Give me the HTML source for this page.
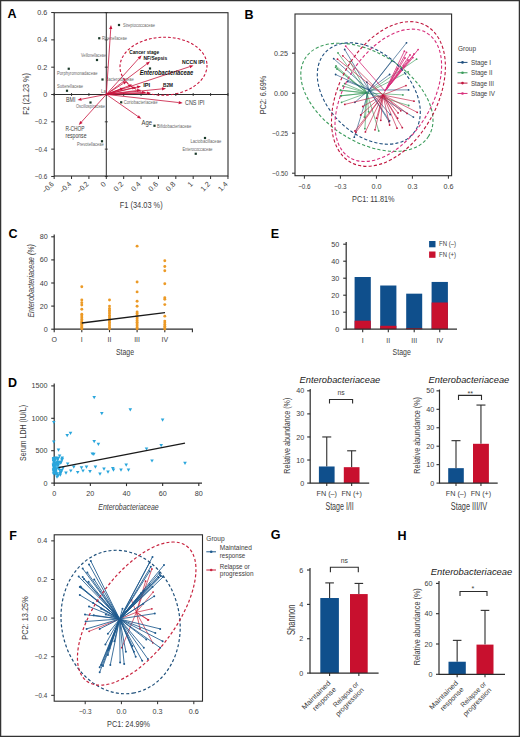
<!DOCTYPE html><html><head><meta charset="utf-8"><style>html,body{margin:0;padding:0;background:#fff;}svg{display:block;}</style></head><body>
<svg width="520" height="737" viewBox="0 0 520 737" font-family='"Liberation Sans", sans-serif'>
<rect x="0" y="0" width="520" height="737" fill="#fff"/>
<text x="7.60" y="18.21" font-size="12.5" font-weight="bold" fill="#000">A</text>
<rect x="54.2" y="12.7" width="173.8" height="163.3" fill="none" stroke="#2c2c2c" stroke-width="1.1"/>
<line x1="106.30" y1="12.70" x2="106.30" y2="176.00" stroke="#2c2c2c" stroke-width="1.0"/>
<line x1="54.20" y1="94.50" x2="228.00" y2="94.50" stroke="#2c2c2c" stroke-width="1.0"/>
<line x1="51.20" y1="176.46" x2="54.20" y2="176.46" stroke="#2c2c2c" stroke-width="1.0"/>
<line x1="104.80" y1="176.46" x2="107.80" y2="176.46" stroke="#2c2c2c" stroke-width="0.9"/>
<text x="47.30" y="179.05" font-size="7.2" text-anchor="end" fill="#3c3c3c" textLength="12.51" lengthAdjust="spacingAndGlyphs">−0.6</text>
<line x1="51.20" y1="149.14" x2="54.20" y2="149.14" stroke="#2c2c2c" stroke-width="1.0"/>
<line x1="104.80" y1="149.14" x2="107.80" y2="149.14" stroke="#2c2c2c" stroke-width="0.9"/>
<text x="47.30" y="151.73" font-size="7.2" text-anchor="end" fill="#3c3c3c" textLength="12.51" lengthAdjust="spacingAndGlyphs">−0.4</text>
<line x1="51.20" y1="121.82" x2="54.20" y2="121.82" stroke="#2c2c2c" stroke-width="1.0"/>
<line x1="104.80" y1="121.82" x2="107.80" y2="121.82" stroke="#2c2c2c" stroke-width="0.9"/>
<text x="47.30" y="124.41" font-size="7.2" text-anchor="end" fill="#3c3c3c" textLength="12.51" lengthAdjust="spacingAndGlyphs">−0.2</text>
<line x1="51.20" y1="94.50" x2="54.20" y2="94.50" stroke="#2c2c2c" stroke-width="1.0"/>
<line x1="104.80" y1="94.50" x2="107.80" y2="94.50" stroke="#2c2c2c" stroke-width="0.9"/>
<text x="47.30" y="97.09" font-size="7.2" text-anchor="end" fill="#3c3c3c">0</text>
<line x1="51.20" y1="67.18" x2="54.20" y2="67.18" stroke="#2c2c2c" stroke-width="1.0"/>
<line x1="104.80" y1="67.18" x2="107.80" y2="67.18" stroke="#2c2c2c" stroke-width="0.9"/>
<text x="47.30" y="69.77" font-size="7.2" text-anchor="end" fill="#3c3c3c">0.2</text>
<line x1="51.20" y1="39.86" x2="54.20" y2="39.86" stroke="#2c2c2c" stroke-width="1.0"/>
<line x1="104.80" y1="39.86" x2="107.80" y2="39.86" stroke="#2c2c2c" stroke-width="0.9"/>
<text x="47.30" y="42.45" font-size="7.2" text-anchor="end" fill="#3c3c3c">0.4</text>
<line x1="51.20" y1="12.54" x2="54.20" y2="12.54" stroke="#2c2c2c" stroke-width="1.0"/>
<line x1="104.80" y1="12.54" x2="107.80" y2="12.54" stroke="#2c2c2c" stroke-width="0.9"/>
<text x="47.30" y="15.13" font-size="7.2" text-anchor="end" fill="#3c3c3c">0.6</text>
<line x1="54.16" y1="176.00" x2="54.16" y2="179.00" stroke="#2c2c2c" stroke-width="1.0"/>
<line x1="54.16" y1="93.00" x2="54.16" y2="96.00" stroke="#2c2c2c" stroke-width="0.9"/>
<text x="54.36" y="184.70" font-size="7.4" text-anchor="end" fill="#3c3c3c" transform="rotate(-45 54.36 184.70)" textLength="12.86" lengthAdjust="spacingAndGlyphs">−0.6</text>
<line x1="71.54" y1="176.00" x2="71.54" y2="179.00" stroke="#2c2c2c" stroke-width="1.0"/>
<line x1="71.54" y1="93.00" x2="71.54" y2="96.00" stroke="#2c2c2c" stroke-width="0.9"/>
<text x="71.74" y="184.70" font-size="7.4" text-anchor="end" fill="#3c3c3c" transform="rotate(-45 71.74 184.70)" textLength="12.86" lengthAdjust="spacingAndGlyphs">−0.4</text>
<line x1="88.92" y1="176.00" x2="88.92" y2="179.00" stroke="#2c2c2c" stroke-width="1.0"/>
<line x1="88.92" y1="93.00" x2="88.92" y2="96.00" stroke="#2c2c2c" stroke-width="0.9"/>
<text x="89.12" y="184.70" font-size="7.4" text-anchor="end" fill="#3c3c3c" transform="rotate(-45 89.12 184.70)" textLength="12.86" lengthAdjust="spacingAndGlyphs">−0.2</text>
<line x1="106.30" y1="176.00" x2="106.30" y2="179.00" stroke="#2c2c2c" stroke-width="1.0"/>
<line x1="106.30" y1="93.00" x2="106.30" y2="96.00" stroke="#2c2c2c" stroke-width="0.9"/>
<text x="106.50" y="184.70" font-size="7.4" text-anchor="end" fill="#3c3c3c" transform="rotate(-45 106.50 184.70)">0</text>
<line x1="123.68" y1="176.00" x2="123.68" y2="179.00" stroke="#2c2c2c" stroke-width="1.0"/>
<line x1="123.68" y1="93.00" x2="123.68" y2="96.00" stroke="#2c2c2c" stroke-width="0.9"/>
<text x="123.88" y="184.70" font-size="7.4" text-anchor="end" fill="#3c3c3c" transform="rotate(-45 123.88 184.70)">0.2</text>
<line x1="141.06" y1="176.00" x2="141.06" y2="179.00" stroke="#2c2c2c" stroke-width="1.0"/>
<line x1="141.06" y1="93.00" x2="141.06" y2="96.00" stroke="#2c2c2c" stroke-width="0.9"/>
<text x="141.26" y="184.70" font-size="7.4" text-anchor="end" fill="#3c3c3c" transform="rotate(-45 141.26 184.70)">0.4</text>
<line x1="158.44" y1="176.00" x2="158.44" y2="179.00" stroke="#2c2c2c" stroke-width="1.0"/>
<line x1="158.44" y1="93.00" x2="158.44" y2="96.00" stroke="#2c2c2c" stroke-width="0.9"/>
<text x="158.64" y="184.70" font-size="7.4" text-anchor="end" fill="#3c3c3c" transform="rotate(-45 158.64 184.70)">0.6</text>
<line x1="175.82" y1="176.00" x2="175.82" y2="179.00" stroke="#2c2c2c" stroke-width="1.0"/>
<line x1="175.82" y1="93.00" x2="175.82" y2="96.00" stroke="#2c2c2c" stroke-width="0.9"/>
<text x="176.02" y="184.70" font-size="7.4" text-anchor="end" fill="#3c3c3c" transform="rotate(-45 176.02 184.70)">0.8</text>
<line x1="193.20" y1="176.00" x2="193.20" y2="179.00" stroke="#2c2c2c" stroke-width="1.0"/>
<line x1="193.20" y1="93.00" x2="193.20" y2="96.00" stroke="#2c2c2c" stroke-width="0.9"/>
<text x="193.40" y="184.70" font-size="7.4" text-anchor="end" fill="#3c3c3c" transform="rotate(-45 193.40 184.70)">1</text>
<line x1="210.58" y1="176.00" x2="210.58" y2="179.00" stroke="#2c2c2c" stroke-width="1.0"/>
<line x1="210.58" y1="93.00" x2="210.58" y2="96.00" stroke="#2c2c2c" stroke-width="0.9"/>
<text x="210.78" y="184.70" font-size="7.4" text-anchor="end" fill="#3c3c3c" transform="rotate(-45 210.78 184.70)">1.2</text>
<line x1="227.96" y1="176.00" x2="227.96" y2="179.00" stroke="#2c2c2c" stroke-width="1.0"/>
<line x1="227.96" y1="93.00" x2="227.96" y2="96.00" stroke="#2c2c2c" stroke-width="0.9"/>
<text x="228.16" y="184.70" font-size="7.4" text-anchor="end" fill="#3c3c3c" transform="rotate(-45 228.16 184.70)">1.4</text>
<text x="141.20" y="208.06" font-size="9.6" text-anchor="middle" fill="#3c3c3c" textLength="42.9" lengthAdjust="spacingAndGlyphs">F1 (34.03 %)</text>
<text transform="translate(25.70 94.00) rotate(-90)" x="0" y="3.46" font-size="9.6" text-anchor="middle" fill="#3c3c3c" textLength="41.6" lengthAdjust="spacingAndGlyphs">F2 (21.23 %)</text>
<rect x="117.90" y="23.90" width="2.2" height="2.2" fill="#1a3a2a"/>
<text x="123.00" y="26.96" font-size="4.6" text-anchor="start" fill="#6a6a6a" textLength="32" lengthAdjust="spacingAndGlyphs">Streptococcaceae</text>
<rect x="98.15" y="37.15" width="2.2" height="2.2" fill="#1a3a2a"/>
<text x="102.00" y="40.16" font-size="4.6" text-anchor="start" fill="#6a6a6a" textLength="25" lengthAdjust="spacingAndGlyphs">Rikenellaceae</text>
<rect x="95.90" y="58.90" width="2.2" height="2.2" fill="#1a3a2a"/>
<text x="106.00" y="57.16" font-size="4.6" text-anchor="end" fill="#6a6a6a" textLength="25" lengthAdjust="spacingAndGlyphs">Veillonellaceae</text>
<rect x="67.65" y="67.65" width="2.2" height="2.2" fill="#1a3a2a"/>
<text x="57.00" y="74.66" font-size="4.6" text-anchor="start" fill="#6a6a6a" textLength="40.5" lengthAdjust="spacingAndGlyphs">Porphyromonadaceae</text>
<rect x="65.90" y="89.65" width="2.2" height="2.2" fill="#1a3a2a"/>
<text x="57.00" y="88.41" font-size="4.6" text-anchor="start" fill="#6a6a6a" textLength="26" lengthAdjust="spacingAndGlyphs">Sutterellaceae</text>
<rect x="101.40" y="78.40" width="2.2" height="2.2" fill="#1a3a2a"/>
<text x="105.75" y="81.16" font-size="4.6" text-anchor="start" fill="#6a6a6a" textLength="28" lengthAdjust="spacingAndGlyphs">Bacteroidaceae</text>
<rect x="89.40" y="101.40" width="2.2" height="2.2" fill="#1a3a2a"/>
<text x="76.00" y="107.66" font-size="4.6" text-anchor="start" fill="#6a6a6a" textLength="29" lengthAdjust="spacingAndGlyphs">Oscillospiraceae</text>
<rect x="120.10" y="101.20" width="2.2" height="2.2" fill="#1a3a2a"/>
<text x="123.75" y="104.16" font-size="4.6" text-anchor="start" fill="#6a6a6a" textLength="33.75" lengthAdjust="spacingAndGlyphs">Coriobacteriaceae</text>
<rect x="100.90" y="140.15" width="2.2" height="2.2" fill="#1a3a2a"/>
<text x="77.00" y="146.16" font-size="4.6" text-anchor="start" fill="#6a6a6a" textLength="26.75" lengthAdjust="spacingAndGlyphs">Prevotellaceae</text>
<rect x="153.40" y="124.65" width="2.2" height="2.2" fill="#1a3a2a"/>
<text x="157.00" y="127.91" font-size="4.6" text-anchor="start" fill="#6a6a6a" textLength="34.25" lengthAdjust="spacingAndGlyphs">Bifidobacteriaceae</text>
<rect x="203.90" y="136.90" width="2.2" height="2.2" fill="#1a3a2a"/>
<text x="190.50" y="142.91" font-size="4.6" text-anchor="start" fill="#6a6a6a" textLength="30.75" lengthAdjust="spacingAndGlyphs">Lactobacillaceae</text>
<rect x="194.65" y="152.65" width="2.2" height="2.2" fill="#1a3a2a"/>
<text x="182.50" y="151.16" font-size="4.6" text-anchor="start" fill="#6a6a6a" textLength="30" lengthAdjust="spacingAndGlyphs">Enterococcaceae</text>
<text x="101.00" y="92.66" font-size="4.6" text-anchor="start" fill="#6a6a6a">La</text>
<ellipse cx="163.50" cy="66.20" rx="43.51" ry="28.98" transform="rotate(-1.69 163.50 66.20)" fill="none" stroke="#c8143c" stroke-width="1.1" stroke-dasharray="2.8 2"/>
<line x1="106.30" y1="94.40" x2="110.73" y2="28.99" stroke="#c8143c" stroke-width="0.8"/>
<polygon points="111.00,25.00 112.33,29.10 109.13,28.88" fill="#c8143c"/>
<line x1="106.30" y1="94.40" x2="138.82" y2="58.37" stroke="#c8143c" stroke-width="0.8"/>
<polygon points="141.50,55.40 140.01,59.44 137.63,57.30" fill="#c8143c"/>
<line x1="106.30" y1="94.40" x2="146.80" y2="63.91" stroke="#c8143c" stroke-width="0.8"/>
<polygon points="150.00,61.50 147.77,65.18 145.84,62.63" fill="#c8143c"/>
<line x1="106.30" y1="94.40" x2="189.70" y2="66.66" stroke="#c8143c" stroke-width="0.8"/>
<polygon points="193.50,65.40 190.21,68.18 189.20,65.14" fill="#c8143c"/>
<line x1="106.30" y1="94.40" x2="137.11" y2="87.12" stroke="#c8143c" stroke-width="0.8"/>
<polygon points="141.00,86.20 137.48,88.68 136.74,85.56" fill="#c8143c"/>
<line x1="106.30" y1="94.40" x2="162.02" y2="88.89" stroke="#c8143c" stroke-width="0.8"/>
<polygon points="166.00,88.50 162.18,90.49 161.86,87.30" fill="#c8143c"/>
<line x1="106.30" y1="94.40" x2="178.73" y2="102.55" stroke="#c8143c" stroke-width="0.8"/>
<polygon points="182.70,103.00 178.55,104.14 178.90,100.96" fill="#c8143c"/>
<line x1="106.30" y1="94.40" x2="137.97" y2="116.46" stroke="#c8143c" stroke-width="0.8"/>
<polygon points="141.25,118.75 137.05,117.78 138.88,115.15" fill="#c8143c"/>
<line x1="106.30" y1="94.40" x2="81.43" y2="99.24" stroke="#c8143c" stroke-width="0.8"/>
<polygon points="77.50,100.00 81.12,97.67 81.73,100.81" fill="#c8143c"/>
<line x1="106.30" y1="94.40" x2="81.43" y2="122.03" stroke="#c8143c" stroke-width="0.8"/>
<polygon points="78.75,125.00 80.24,120.96 82.62,123.10" fill="#c8143c"/>
<line x1="106.30" y1="94.40" x2="123.64" y2="83.17" stroke="#c8143c" stroke-width="0.8"/>
<polygon points="127.00,81.00 124.51,84.52 122.77,81.83" fill="#c8143c"/>
<line x1="106.30" y1="94.40" x2="128.26" y2="86.03" stroke="#c8143c" stroke-width="0.8"/>
<polygon points="132.00,84.60 128.83,87.52 127.69,84.53" fill="#c8143c"/>
<line x1="106.30" y1="94.40" x2="132.12" y2="87.97" stroke="#c8143c" stroke-width="0.8"/>
<polygon points="136.00,87.00 132.51,89.52 131.73,86.41" fill="#c8143c"/>
<line x1="106.30" y1="94.40" x2="137.03" y2="90.50" stroke="#c8143c" stroke-width="0.8"/>
<polygon points="141.00,90.00 137.23,92.09 136.83,88.92" fill="#c8143c"/>
<line x1="106.30" y1="94.40" x2="142.01" y2="92.51" stroke="#c8143c" stroke-width="0.8"/>
<polygon points="146.00,92.30 142.09,94.11 141.92,90.91" fill="#c8143c"/>
<line x1="106.30" y1="94.40" x2="147.00" y2="93.13" stroke="#c8143c" stroke-width="0.8"/>
<polygon points="151.00,93.00 147.05,94.72 146.95,91.53" fill="#c8143c"/>
<line x1="106.30" y1="94.40" x2="120.24" y2="89.36" stroke="#c8143c" stroke-width="0.8"/>
<polygon points="124.00,88.00 120.78,90.86 119.69,87.86" fill="#c8143c"/>
<text x="129.20" y="53.73" font-size="6.2" text-anchor="start" fill="#111" font-weight="bold" textLength="30" lengthAdjust="spacingAndGlyphs">Cancer stage</text>
<text x="143.50" y="60.43" font-size="6.2" text-anchor="start" fill="#111" font-weight="bold" textLength="23.7" lengthAdjust="spacingAndGlyphs">NF/Sepsis</text>
<text x="182.00" y="63.73" font-size="6.2" text-anchor="start" fill="#111" font-weight="bold" textLength="22.6" lengthAdjust="spacingAndGlyphs">NCCN IPI</text>
<text x="143.20" y="87.23" font-size="6.2" text-anchor="start" fill="#111" font-weight="bold" textLength="7" lengthAdjust="spacingAndGlyphs">IPI</text>
<text x="163.00" y="87.23" font-size="6.2" text-anchor="start" fill="#111" font-weight="bold" textLength="10" lengthAdjust="spacingAndGlyphs">B2M</text>
<rect x="148.9" y="67.4" width="2.2" height="2.2" fill="#1a3a2a"/>
<text x="139.70" y="75.04" font-size="7.6" text-anchor="start" fill="#111" font-weight="bold" font-style="italic" textLength="53.5" lengthAdjust="spacingAndGlyphs">Enterobacteriaceae</text>
<text x="185.00" y="105.30" font-size="6.4" text-anchor="start" fill="#3c3c3c" textLength="19.6" lengthAdjust="spacingAndGlyphs">CNS IPI</text>
<text x="141.50" y="124.95" font-size="6.8" text-anchor="start" fill="#3c3c3c" textLength="10.5" lengthAdjust="spacingAndGlyphs">Age</text>
<text x="66.00" y="102.45" font-size="6.8" text-anchor="start" fill="#3c3c3c" textLength="9.5" lengthAdjust="spacingAndGlyphs">BMI</text>
<text x="65.50" y="131.20" font-size="6.8" text-anchor="start" fill="#3c3c3c" textLength="19" lengthAdjust="spacingAndGlyphs">R-CHOP</text>
<text x="65.50" y="137.95" font-size="6.8" text-anchor="start" fill="#3c3c3c" textLength="21" lengthAdjust="spacingAndGlyphs">response</text>
<text x="244.50" y="18.51" font-size="12.5" font-weight="bold" fill="#000">B</text>
<line x1="367.00" y1="93.00" x2="338.00" y2="52.90" stroke="#3c9c5c" stroke-width="0.7" stroke-opacity="0.9"/>
<line x1="367.00" y1="93.00" x2="335.60" y2="67.30" stroke="#3c9c5c" stroke-width="0.7" stroke-opacity="0.9"/>
<line x1="367.00" y1="93.00" x2="344.70" y2="83.70" stroke="#3c9c5c" stroke-width="0.7" stroke-opacity="0.9"/>
<line x1="367.00" y1="93.00" x2="340.40" y2="90.40" stroke="#3c9c5c" stroke-width="0.7" stroke-opacity="0.9"/>
<line x1="367.00" y1="93.00" x2="341.30" y2="95.70" stroke="#3c9c5c" stroke-width="0.7" stroke-opacity="0.9"/>
<line x1="367.00" y1="93.00" x2="340.60" y2="90.10" stroke="#3c9c5c" stroke-width="0.7" stroke-opacity="0.9"/>
<line x1="367.00" y1="93.00" x2="340.60" y2="95.90" stroke="#3c9c5c" stroke-width="0.7" stroke-opacity="0.9"/>
<line x1="367.00" y1="93.00" x2="341.60" y2="102.30" stroke="#3c9c5c" stroke-width="0.7" stroke-opacity="0.9"/>
<line x1="367.00" y1="93.00" x2="364.40" y2="117.10" stroke="#3c9c5c" stroke-width="0.7" stroke-opacity="0.9"/>
<line x1="367.00" y1="93.00" x2="364.90" y2="128.70" stroke="#3c9c5c" stroke-width="0.7" stroke-opacity="0.9"/>
<line x1="367.00" y1="93.00" x2="378.70" y2="130.90" stroke="#3c9c5c" stroke-width="0.7" stroke-opacity="0.9"/>
<line x1="367.00" y1="93.00" x2="402.90" y2="94.90" stroke="#3c9c5c" stroke-width="0.7" stroke-opacity="0.9"/>
<line x1="367.00" y1="93.00" x2="408.70" y2="105.50" stroke="#3c9c5c" stroke-width="0.7" stroke-opacity="0.9"/>
<line x1="367.00" y1="93.00" x2="416.60" y2="59.20" stroke="#3c9c5c" stroke-width="0.7" stroke-opacity="0.9"/>
<line x1="367.00" y1="93.00" x2="408.10" y2="71.90" stroke="#3c9c5c" stroke-width="0.7" stroke-opacity="0.9"/>
<line x1="367.00" y1="93.00" x2="368.60" y2="111.80" stroke="#3c9c5c" stroke-width="0.7" stroke-opacity="0.9"/>
<line x1="367.00" y1="93.00" x2="350.00" y2="61.60" stroke="#3c9c5c" stroke-width="0.7" stroke-opacity="0.9"/>
<line x1="367.00" y1="93.00" x2="336.00" y2="66.00" stroke="#3c9c5c" stroke-width="0.7" stroke-opacity="0.9"/>
<line x1="367.00" y1="93.00" x2="337.00" y2="69.00" stroke="#3c9c5c" stroke-width="0.7" stroke-opacity="0.9"/>
<line x1="367.00" y1="93.00" x2="343.00" y2="86.00" stroke="#3c9c5c" stroke-width="0.7" stroke-opacity="0.9"/>
<circle cx="338.00" cy="52.90" r="0.9" fill="#3c9c5c"/>
<circle cx="335.60" cy="67.30" r="0.9" fill="#3c9c5c"/>
<circle cx="344.70" cy="83.70" r="0.9" fill="#3c9c5c"/>
<circle cx="340.40" cy="90.40" r="0.9" fill="#3c9c5c"/>
<circle cx="341.30" cy="95.70" r="0.9" fill="#3c9c5c"/>
<circle cx="340.60" cy="90.10" r="0.9" fill="#3c9c5c"/>
<circle cx="340.60" cy="95.90" r="0.9" fill="#3c9c5c"/>
<circle cx="341.60" cy="102.30" r="0.9" fill="#3c9c5c"/>
<circle cx="364.40" cy="117.10" r="0.9" fill="#3c9c5c"/>
<circle cx="364.90" cy="128.70" r="0.9" fill="#3c9c5c"/>
<circle cx="378.70" cy="130.90" r="0.9" fill="#3c9c5c"/>
<circle cx="402.90" cy="94.90" r="0.9" fill="#3c9c5c"/>
<circle cx="408.70" cy="105.50" r="0.9" fill="#3c9c5c"/>
<circle cx="416.60" cy="59.20" r="0.9" fill="#3c9c5c"/>
<circle cx="408.10" cy="71.90" r="0.9" fill="#3c9c5c"/>
<circle cx="368.60" cy="111.80" r="0.9" fill="#3c9c5c"/>
<circle cx="350.00" cy="61.60" r="0.9" fill="#3c9c5c"/>
<circle cx="336.00" cy="66.00" r="0.9" fill="#3c9c5c"/>
<circle cx="337.00" cy="69.00" r="0.9" fill="#3c9c5c"/>
<circle cx="343.00" cy="86.00" r="0.9" fill="#3c9c5c"/>
<line x1="369.00" y1="90.00" x2="344.70" y2="49.50" stroke="#1f4f7e" stroke-width="0.7" stroke-opacity="0.9"/>
<line x1="369.00" y1="90.00" x2="333.70" y2="58.70" stroke="#1f4f7e" stroke-width="0.7" stroke-opacity="0.9"/>
<line x1="369.00" y1="90.00" x2="335.60" y2="74.50" stroke="#1f4f7e" stroke-width="0.7" stroke-opacity="0.9"/>
<line x1="369.00" y1="90.00" x2="347.70" y2="81.50" stroke="#1f4f7e" stroke-width="0.7" stroke-opacity="0.9"/>
<line x1="369.00" y1="90.00" x2="366.80" y2="82.20" stroke="#1f4f7e" stroke-width="0.7" stroke-opacity="0.9"/>
<line x1="369.00" y1="90.00" x2="406.50" y2="42.80" stroke="#1f4f7e" stroke-width="0.7" stroke-opacity="0.9"/>
<line x1="369.00" y1="90.00" x2="389.60" y2="74.50" stroke="#1f4f7e" stroke-width="0.7" stroke-opacity="0.9"/>
<line x1="369.00" y1="90.00" x2="408.60" y2="89.90" stroke="#1f4f7e" stroke-width="0.7" stroke-opacity="0.9"/>
<line x1="369.00" y1="90.00" x2="354.30" y2="137.20" stroke="#1f4f7e" stroke-width="0.7" stroke-opacity="0.9"/>
<line x1="369.00" y1="90.00" x2="354.90" y2="102.30" stroke="#1f4f7e" stroke-width="0.7" stroke-opacity="0.9"/>
<line x1="369.00" y1="90.00" x2="389.00" y2="121.50" stroke="#1f4f7e" stroke-width="0.7" stroke-opacity="0.9"/>
<line x1="369.00" y1="90.00" x2="413.40" y2="117.10" stroke="#1f4f7e" stroke-width="0.7" stroke-opacity="0.9"/>
<line x1="369.00" y1="90.00" x2="390.20" y2="114.50" stroke="#1f4f7e" stroke-width="0.7" stroke-opacity="0.9"/>
<line x1="369.00" y1="90.00" x2="389.60" y2="120.80" stroke="#1f4f7e" stroke-width="0.7" stroke-opacity="0.9"/>
<line x1="369.00" y1="90.00" x2="391.70" y2="60.80" stroke="#1f4f7e" stroke-width="0.7" stroke-opacity="0.9"/>
<circle cx="344.70" cy="49.50" r="0.9" fill="#1f4f7e"/>
<circle cx="333.70" cy="58.70" r="0.9" fill="#1f4f7e"/>
<circle cx="335.60" cy="74.50" r="0.9" fill="#1f4f7e"/>
<circle cx="347.70" cy="81.50" r="0.9" fill="#1f4f7e"/>
<circle cx="366.80" cy="82.20" r="0.9" fill="#1f4f7e"/>
<circle cx="406.50" cy="42.80" r="0.9" fill="#1f4f7e"/>
<circle cx="389.60" cy="74.50" r="0.9" fill="#1f4f7e"/>
<circle cx="408.60" cy="89.90" r="0.9" fill="#1f4f7e"/>
<circle cx="354.30" cy="137.20" r="0.9" fill="#1f4f7e"/>
<circle cx="354.90" cy="102.30" r="0.9" fill="#1f4f7e"/>
<circle cx="389.00" cy="121.50" r="0.9" fill="#1f4f7e"/>
<circle cx="413.40" cy="117.10" r="0.9" fill="#1f4f7e"/>
<circle cx="390.20" cy="114.50" r="0.9" fill="#1f4f7e"/>
<circle cx="389.60" cy="120.80" r="0.9" fill="#1f4f7e"/>
<circle cx="391.70" cy="60.80" r="0.9" fill="#1f4f7e"/>
<line x1="383.00" y1="95.00" x2="342.80" y2="55.80" stroke="#c0173f" stroke-width="0.7" stroke-opacity="0.9"/>
<line x1="383.00" y1="95.00" x2="337.50" y2="59.20" stroke="#c0173f" stroke-width="0.7" stroke-opacity="0.9"/>
<line x1="383.00" y1="95.00" x2="397.50" y2="68.70" stroke="#c0173f" stroke-width="0.7" stroke-opacity="0.9"/>
<line x1="383.00" y1="95.00" x2="406.00" y2="85.60" stroke="#c0173f" stroke-width="0.7" stroke-opacity="0.9"/>
<line x1="383.00" y1="95.00" x2="344.80" y2="104.40" stroke="#c0173f" stroke-width="0.7" stroke-opacity="0.9"/>
<line x1="383.00" y1="95.00" x2="362.80" y2="106.50" stroke="#c0173f" stroke-width="0.7" stroke-opacity="0.9"/>
<line x1="383.00" y1="95.00" x2="360.70" y2="115.00" stroke="#c0173f" stroke-width="0.7" stroke-opacity="0.9"/>
<line x1="383.00" y1="95.00" x2="355.90" y2="132.40" stroke="#c0173f" stroke-width="0.7" stroke-opacity="0.9"/>
<line x1="383.00" y1="95.00" x2="365.40" y2="131.90" stroke="#c0173f" stroke-width="0.7" stroke-opacity="0.9"/>
<line x1="383.00" y1="95.00" x2="375.00" y2="129.80" stroke="#c0173f" stroke-width="0.7" stroke-opacity="0.9"/>
<line x1="383.00" y1="95.00" x2="376.60" y2="118.20" stroke="#c0173f" stroke-width="0.7" stroke-opacity="0.9"/>
<line x1="383.00" y1="95.00" x2="380.80" y2="120.30" stroke="#c0173f" stroke-width="0.7" stroke-opacity="0.9"/>
<line x1="383.00" y1="95.00" x2="414.00" y2="101.20" stroke="#c0173f" stroke-width="0.7" stroke-opacity="0.9"/>
<line x1="383.00" y1="95.00" x2="417.20" y2="112.30" stroke="#c0173f" stroke-width="0.7" stroke-opacity="0.9"/>
<line x1="383.00" y1="95.00" x2="407.10" y2="113.40" stroke="#c0173f" stroke-width="0.7" stroke-opacity="0.9"/>
<line x1="383.00" y1="95.00" x2="400.80" y2="110.80" stroke="#c0173f" stroke-width="0.7" stroke-opacity="0.9"/>
<line x1="383.00" y1="95.00" x2="398.10" y2="112.90" stroke="#c0173f" stroke-width="0.7" stroke-opacity="0.9"/>
<line x1="383.00" y1="95.00" x2="397.60" y2="118.20" stroke="#c0173f" stroke-width="0.7" stroke-opacity="0.9"/>
<line x1="383.00" y1="95.00" x2="389.60" y2="125.00" stroke="#c0173f" stroke-width="0.7" stroke-opacity="0.9"/>
<line x1="383.00" y1="95.00" x2="397.00" y2="128.20" stroke="#c0173f" stroke-width="0.7" stroke-opacity="0.9"/>
<line x1="383.00" y1="95.00" x2="402.30" y2="127.70" stroke="#c0173f" stroke-width="0.7" stroke-opacity="0.9"/>
<line x1="383.00" y1="95.00" x2="355.00" y2="131.00" stroke="#c0173f" stroke-width="0.7" stroke-opacity="0.9"/>
<circle cx="342.80" cy="55.80" r="0.9" fill="#c0173f"/>
<circle cx="337.50" cy="59.20" r="0.9" fill="#c0173f"/>
<circle cx="397.50" cy="68.70" r="0.9" fill="#c0173f"/>
<circle cx="406.00" cy="85.60" r="0.9" fill="#c0173f"/>
<circle cx="344.80" cy="104.40" r="0.9" fill="#c0173f"/>
<circle cx="362.80" cy="106.50" r="0.9" fill="#c0173f"/>
<circle cx="360.70" cy="115.00" r="0.9" fill="#c0173f"/>
<circle cx="355.90" cy="132.40" r="0.9" fill="#c0173f"/>
<circle cx="365.40" cy="131.90" r="0.9" fill="#c0173f"/>
<circle cx="375.00" cy="129.80" r="0.9" fill="#c0173f"/>
<circle cx="376.60" cy="118.20" r="0.9" fill="#c0173f"/>
<circle cx="380.80" cy="120.30" r="0.9" fill="#c0173f"/>
<circle cx="414.00" cy="101.20" r="0.9" fill="#c0173f"/>
<circle cx="417.20" cy="112.30" r="0.9" fill="#c0173f"/>
<circle cx="407.10" cy="113.40" r="0.9" fill="#c0173f"/>
<circle cx="400.80" cy="110.80" r="0.9" fill="#c0173f"/>
<circle cx="398.10" cy="112.90" r="0.9" fill="#c0173f"/>
<circle cx="397.60" cy="118.20" r="0.9" fill="#c0173f"/>
<circle cx="389.60" cy="125.00" r="0.9" fill="#c0173f"/>
<circle cx="397.00" cy="128.20" r="0.9" fill="#c0173f"/>
<circle cx="402.30" cy="127.70" r="0.9" fill="#c0173f"/>
<circle cx="355.00" cy="131.00" r="0.9" fill="#c0173f"/>
<line x1="385.00" y1="91.00" x2="345.70" y2="46.20" stroke="#d8307c" stroke-width="0.9" stroke-opacity="0.9"/>
<line x1="385.00" y1="91.00" x2="404.40" y2="51.20" stroke="#d8307c" stroke-width="0.9" stroke-opacity="0.9"/>
<line x1="385.00" y1="91.00" x2="406.50" y2="52.30" stroke="#d8307c" stroke-width="0.9" stroke-opacity="0.9"/>
<line x1="385.00" y1="91.00" x2="418.10" y2="49.60" stroke="#d8307c" stroke-width="0.9" stroke-opacity="0.9"/>
<line x1="385.00" y1="91.00" x2="412.90" y2="57.60" stroke="#d8307c" stroke-width="0.9" stroke-opacity="0.9"/>
<line x1="385.00" y1="91.00" x2="403.90" y2="66.00" stroke="#d8307c" stroke-width="0.9" stroke-opacity="0.9"/>
<line x1="385.00" y1="91.00" x2="410.00" y2="55.00" stroke="#d8307c" stroke-width="0.9" stroke-opacity="0.9"/>
<line x1="385.00" y1="91.00" x2="408.00" y2="60.00" stroke="#d8307c" stroke-width="0.9" stroke-opacity="0.9"/>
<line x1="385.00" y1="91.00" x2="414.00" y2="54.00" stroke="#d8307c" stroke-width="0.9" stroke-opacity="0.9"/>
<line x1="385.00" y1="91.00" x2="405.00" y2="58.00" stroke="#d8307c" stroke-width="0.9" stroke-opacity="0.9"/>
<circle cx="345.70" cy="46.20" r="0.9" fill="#d8307c"/>
<circle cx="404.40" cy="51.20" r="0.9" fill="#d8307c"/>
<circle cx="406.50" cy="52.30" r="0.9" fill="#d8307c"/>
<circle cx="418.10" cy="49.60" r="0.9" fill="#d8307c"/>
<circle cx="412.90" cy="57.60" r="0.9" fill="#d8307c"/>
<circle cx="403.90" cy="66.00" r="0.9" fill="#d8307c"/>
<circle cx="410.00" cy="55.00" r="0.9" fill="#d8307c"/>
<circle cx="408.00" cy="60.00" r="0.9" fill="#d8307c"/>
<circle cx="414.00" cy="54.00" r="0.9" fill="#d8307c"/>
<circle cx="405.00" cy="58.00" r="0.9" fill="#d8307c"/>
<ellipse cx="366.90" cy="97.30" rx="73.00" ry="44.35" transform="rotate(32.30 366.90 97.30)" fill="none" stroke="#3c9c5c" stroke-width="1.1" stroke-dasharray="3.2 2.1"/>
<ellipse cx="368.80" cy="93.50" rx="59.83" ry="40.54" transform="rotate(43.79 368.80 93.50)" fill="none" stroke="#1f4f7e" stroke-width="1.1" stroke-dasharray="3.2 2.1"/>
<ellipse cx="388.45" cy="94.00" rx="78.02" ry="48.89" transform="rotate(-61.29 388.45 94.00)" fill="none" stroke="#c0173f" stroke-width="1.1" stroke-dasharray="3.2 2.1"/>
<ellipse cx="388.30" cy="95.30" rx="73.26" ry="43.09" transform="rotate(-58.02 388.30 95.30)" fill="none" stroke="#d8307c" stroke-width="1.1" stroke-dasharray="3.2 2.1"/>
<rect x="295.0" y="14.0" width="156.60000000000002" height="161.7" fill="none" stroke="#2c2c2c" stroke-width="1.1"/>
<line x1="292.00" y1="53.20" x2="295.00" y2="53.20" stroke="#2c2c2c" stroke-width="1.0"/>
<text x="288.00" y="55.79" font-size="7.2" text-anchor="end" fill="#3c3c3c">0.25</text>
<line x1="292.00" y1="93.20" x2="295.00" y2="93.20" stroke="#2c2c2c" stroke-width="1.0"/>
<text x="288.00" y="95.79" font-size="7.2" text-anchor="end" fill="#3c3c3c">0.00</text>
<line x1="292.00" y1="133.20" x2="295.00" y2="133.20" stroke="#2c2c2c" stroke-width="1.0"/>
<text x="288.00" y="135.79" font-size="7.2" text-anchor="end" fill="#3c3c3c" textLength="16.03" lengthAdjust="spacingAndGlyphs">−0.25</text>
<line x1="292.00" y1="173.20" x2="295.00" y2="173.20" stroke="#2c2c2c" stroke-width="1.0"/>
<text x="288.00" y="175.79" font-size="7.2" text-anchor="end" fill="#3c3c3c" textLength="16.03" lengthAdjust="spacingAndGlyphs">−0.50</text>
<line x1="304.40" y1="175.70" x2="304.40" y2="178.70" stroke="#2c2c2c" stroke-width="1.0"/>
<text x="304.40" y="188.99" font-size="7.2" text-anchor="middle" fill="#3c3c3c" textLength="12.51" lengthAdjust="spacingAndGlyphs">−0.6</text>
<line x1="340.40" y1="175.70" x2="340.40" y2="178.70" stroke="#2c2c2c" stroke-width="1.0"/>
<text x="340.40" y="188.99" font-size="7.2" text-anchor="middle" fill="#3c3c3c" textLength="12.51" lengthAdjust="spacingAndGlyphs">−0.3</text>
<line x1="376.40" y1="175.70" x2="376.40" y2="178.70" stroke="#2c2c2c" stroke-width="1.0"/>
<text x="376.40" y="188.99" font-size="7.2" text-anchor="middle" fill="#3c3c3c">0.0</text>
<line x1="412.40" y1="175.70" x2="412.40" y2="178.70" stroke="#2c2c2c" stroke-width="1.0"/>
<text x="412.40" y="188.99" font-size="7.2" text-anchor="middle" fill="#3c3c3c">0.3</text>
<line x1="448.40" y1="175.70" x2="448.40" y2="178.70" stroke="#2c2c2c" stroke-width="1.0"/>
<text x="448.40" y="188.99" font-size="7.2" text-anchor="middle" fill="#3c3c3c">0.6</text>
<text x="373.30" y="201.86" font-size="9.6" text-anchor="middle" fill="#3c3c3c" textLength="42.6" lengthAdjust="spacingAndGlyphs">PC1: 11.81%</text>
<text transform="translate(262.30 95.00) rotate(-90)" x="0" y="3.42" font-size="9.5" text-anchor="middle" fill="#3c3c3c" textLength="38.5" lengthAdjust="spacingAndGlyphs">PC2: 6.69%</text>
<text x="458.00" y="51.32" font-size="7" text-anchor="start" fill="#3c3c3c" textLength="18" lengthAdjust="spacingAndGlyphs">Group</text>
<line x1="457.50" y1="62.40" x2="467.50" y2="62.40" stroke="#1f4f7e" stroke-width="1.0"/>
<circle cx="462.5" cy="62.40" r="1.3" fill="#1f4f7e"/>
<text x="471.00" y="64.92" font-size="7" text-anchor="start" fill="#3c3c3c" textLength="20" lengthAdjust="spacingAndGlyphs">Stage I</text>
<line x1="457.50" y1="72.75" x2="467.50" y2="72.75" stroke="#3c9c5c" stroke-width="1.0"/>
<circle cx="462.5" cy="72.75" r="1.3" fill="#3c9c5c"/>
<text x="471.00" y="75.27" font-size="7" text-anchor="start" fill="#3c3c3c" textLength="21.5" lengthAdjust="spacingAndGlyphs">Stage II</text>
<line x1="457.50" y1="83.10" x2="467.50" y2="83.10" stroke="#c0173f" stroke-width="1.0"/>
<circle cx="462.5" cy="83.10" r="1.3" fill="#c0173f"/>
<text x="471.00" y="85.62" font-size="7" text-anchor="start" fill="#3c3c3c" textLength="23" lengthAdjust="spacingAndGlyphs">Stage III</text>
<line x1="457.50" y1="93.45" x2="467.50" y2="93.45" stroke="#d8307c" stroke-width="1.0"/>
<circle cx="462.5" cy="93.45" r="1.3" fill="#d8307c"/>
<text x="471.00" y="95.97" font-size="7" text-anchor="start" fill="#3c3c3c" textLength="24" lengthAdjust="spacingAndGlyphs">Stage IV</text>
<text x="8.40" y="237.61" font-size="12.5" font-weight="bold" fill="#000">C</text>
<line x1="54.20" y1="234.50" x2="54.20" y2="329.70" stroke="#2c2c2c" stroke-width="1.2"/>
<line x1="54.20" y1="329.20" x2="193.00" y2="329.20" stroke="#2c2c2c" stroke-width="1.2"/>
<line x1="51.20" y1="329.20" x2="54.20" y2="329.20" stroke="#2c2c2c" stroke-width="1.1"/>
<text x="47.80" y="331.79" font-size="7.2" text-anchor="end" fill="#3c3c3c">0</text>
<line x1="51.20" y1="306.10" x2="54.20" y2="306.10" stroke="#2c2c2c" stroke-width="1.1"/>
<text x="47.80" y="308.69" font-size="7.2" text-anchor="end" fill="#3c3c3c">20</text>
<line x1="51.20" y1="283.00" x2="54.20" y2="283.00" stroke="#2c2c2c" stroke-width="1.1"/>
<text x="47.80" y="285.59" font-size="7.2" text-anchor="end" fill="#3c3c3c">40</text>
<line x1="51.20" y1="259.90" x2="54.20" y2="259.90" stroke="#2c2c2c" stroke-width="1.1"/>
<text x="47.80" y="262.49" font-size="7.2" text-anchor="end" fill="#3c3c3c">60</text>
<line x1="51.20" y1="236.80" x2="54.20" y2="236.80" stroke="#2c2c2c" stroke-width="1.1"/>
<text x="47.80" y="239.39" font-size="7.2" text-anchor="end" fill="#3c3c3c">80</text>
<line x1="54.20" y1="329.20" x2="54.20" y2="332.20" stroke="#2c2c2c" stroke-width="1.1"/>
<line x1="81.80" y1="329.20" x2="81.80" y2="332.20" stroke="#2c2c2c" stroke-width="1.1"/>
<line x1="109.50" y1="329.20" x2="109.50" y2="332.20" stroke="#2c2c2c" stroke-width="1.1"/>
<line x1="137.10" y1="329.20" x2="137.10" y2="332.20" stroke="#2c2c2c" stroke-width="1.1"/>
<line x1="164.80" y1="329.20" x2="164.80" y2="332.20" stroke="#2c2c2c" stroke-width="1.1"/>
<line x1="192.40" y1="329.20" x2="192.40" y2="332.20" stroke="#2c2c2c" stroke-width="1.1"/>
<text x="54.20" y="342.22" font-size="7" text-anchor="middle" fill="#3c3c3c">O</text>
<text x="81.80" y="342.22" font-size="7" text-anchor="middle" fill="#3c3c3c">I</text>
<text x="109.50" y="342.22" font-size="7" text-anchor="middle" fill="#3c3c3c">II</text>
<text x="137.10" y="342.22" font-size="7" text-anchor="middle" fill="#3c3c3c">III</text>
<text x="164.80" y="342.22" font-size="7" text-anchor="middle" fill="#3c3c3c">IV</text>
<text x="125.00" y="355.24" font-size="9" text-anchor="middle" fill="#3c3c3c" textLength="18" lengthAdjust="spacingAndGlyphs">Stage</text>
<text transform="translate(30.20 280.90) rotate(-90)" x="0" y="3.31" font-size="9.2" text-anchor="middle" fill="#3c3c3c" font-style="italic" textLength="73.3" lengthAdjust="spacingAndGlyphs">Enterobacteriaceae (%)</text>
<circle cx="81.80" cy="286.81" r="1.45" fill="#ec9a26"/>
<circle cx="81.80" cy="299.98" r="1.45" fill="#ec9a26"/>
<circle cx="81.80" cy="302.63" r="1.45" fill="#ec9a26"/>
<circle cx="81.80" cy="304.94" r="1.45" fill="#ec9a26"/>
<circle cx="81.80" cy="309.22" r="1.45" fill="#ec9a26"/>
<circle cx="81.80" cy="314.19" r="1.45" fill="#ec9a26"/>
<circle cx="81.80" cy="315.92" r="1.45" fill="#ec9a26"/>
<circle cx="81.80" cy="317.65" r="1.45" fill="#ec9a26"/>
<circle cx="81.80" cy="319.38" r="1.45" fill="#ec9a26"/>
<circle cx="81.80" cy="321.12" r="1.45" fill="#ec9a26"/>
<circle cx="81.80" cy="322.27" r="1.45" fill="#ec9a26"/>
<circle cx="81.80" cy="323.43" r="1.45" fill="#ec9a26"/>
<circle cx="81.80" cy="324.58" r="1.45" fill="#ec9a26"/>
<circle cx="81.80" cy="325.74" r="1.45" fill="#ec9a26"/>
<circle cx="81.80" cy="326.89" r="1.45" fill="#ec9a26"/>
<circle cx="81.80" cy="328.05" r="1.45" fill="#ec9a26"/>
<circle cx="81.80" cy="328.85" r="1.45" fill="#ec9a26"/>
<circle cx="109.50" cy="299.98" r="1.45" fill="#ec9a26"/>
<circle cx="109.50" cy="306.10" r="1.45" fill="#ec9a26"/>
<circle cx="109.50" cy="308.41" r="1.45" fill="#ec9a26"/>
<circle cx="109.50" cy="310.14" r="1.45" fill="#ec9a26"/>
<circle cx="109.50" cy="311.88" r="1.45" fill="#ec9a26"/>
<circle cx="109.50" cy="313.61" r="1.45" fill="#ec9a26"/>
<circle cx="109.50" cy="315.34" r="1.45" fill="#ec9a26"/>
<circle cx="109.50" cy="317.07" r="1.45" fill="#ec9a26"/>
<circle cx="109.50" cy="318.81" r="1.45" fill="#ec9a26"/>
<circle cx="109.50" cy="320.54" r="1.45" fill="#ec9a26"/>
<circle cx="109.50" cy="322.27" r="1.45" fill="#ec9a26"/>
<circle cx="109.50" cy="324.00" r="1.45" fill="#ec9a26"/>
<circle cx="109.50" cy="325.74" r="1.45" fill="#ec9a26"/>
<circle cx="109.50" cy="327.47" r="1.45" fill="#ec9a26"/>
<circle cx="109.50" cy="328.85" r="1.45" fill="#ec9a26"/>
<circle cx="137.10" cy="246.16" r="1.45" fill="#ec9a26"/>
<circle cx="137.10" cy="281.96" r="1.45" fill="#ec9a26"/>
<circle cx="137.10" cy="291.89" r="1.45" fill="#ec9a26"/>
<circle cx="137.10" cy="301.25" r="1.45" fill="#ec9a26"/>
<circle cx="137.10" cy="306.22" r="1.45" fill="#ec9a26"/>
<circle cx="137.10" cy="311.88" r="1.45" fill="#ec9a26"/>
<circle cx="137.10" cy="313.61" r="1.45" fill="#ec9a26"/>
<circle cx="137.10" cy="315.34" r="1.45" fill="#ec9a26"/>
<circle cx="137.10" cy="317.07" r="1.45" fill="#ec9a26"/>
<circle cx="137.10" cy="318.81" r="1.45" fill="#ec9a26"/>
<circle cx="137.10" cy="320.54" r="1.45" fill="#ec9a26"/>
<circle cx="137.10" cy="322.27" r="1.45" fill="#ec9a26"/>
<circle cx="137.10" cy="324.00" r="1.45" fill="#ec9a26"/>
<circle cx="137.10" cy="325.74" r="1.45" fill="#ec9a26"/>
<circle cx="137.10" cy="327.47" r="1.45" fill="#ec9a26"/>
<circle cx="137.10" cy="328.85" r="1.45" fill="#ec9a26"/>
<circle cx="164.80" cy="260.82" r="1.45" fill="#ec9a26"/>
<circle cx="164.80" cy="266.48" r="1.45" fill="#ec9a26"/>
<circle cx="164.80" cy="270.76" r="1.45" fill="#ec9a26"/>
<circle cx="164.80" cy="283.81" r="1.45" fill="#ec9a26"/>
<circle cx="164.80" cy="297.67" r="1.45" fill="#ec9a26"/>
<circle cx="164.80" cy="299.29" r="1.45" fill="#ec9a26"/>
<circle cx="164.80" cy="304.60" r="1.45" fill="#ec9a26"/>
<circle cx="164.80" cy="316.15" r="1.45" fill="#ec9a26"/>
<circle cx="164.80" cy="321.12" r="1.45" fill="#ec9a26"/>
<circle cx="164.80" cy="322.85" r="1.45" fill="#ec9a26"/>
<circle cx="164.80" cy="324.58" r="1.45" fill="#ec9a26"/>
<circle cx="164.80" cy="326.31" r="1.45" fill="#ec9a26"/>
<circle cx="164.80" cy="328.05" r="1.45" fill="#ec9a26"/>
<circle cx="164.80" cy="328.97" r="1.45" fill="#ec9a26"/>
<line x1="81.80" y1="323.00" x2="165.00" y2="312.70" stroke="#1a1a1a" stroke-width="1.3"/>
<text x="8.10" y="387.41" font-size="12.5" font-weight="bold" fill="#000">D</text>
<line x1="54.20" y1="383.50" x2="54.20" y2="483.60" stroke="#2c2c2c" stroke-width="1.2"/>
<line x1="54.20" y1="483.10" x2="202.00" y2="483.10" stroke="#2c2c2c" stroke-width="1.2"/>
<line x1="51.20" y1="483.10" x2="54.20" y2="483.10" stroke="#2c2c2c" stroke-width="1.1"/>
<text x="47.40" y="485.69" font-size="7.2" text-anchor="end" fill="#3c3c3c">0</text>
<line x1="51.20" y1="450.70" x2="54.20" y2="450.70" stroke="#2c2c2c" stroke-width="1.1"/>
<text x="47.40" y="453.29" font-size="7.2" text-anchor="end" fill="#3c3c3c">500</text>
<line x1="51.20" y1="418.30" x2="54.20" y2="418.30" stroke="#2c2c2c" stroke-width="1.1"/>
<text x="47.40" y="420.89" font-size="7.2" text-anchor="end" fill="#3c3c3c">1000</text>
<line x1="51.20" y1="385.90" x2="54.20" y2="385.90" stroke="#2c2c2c" stroke-width="1.1"/>
<text x="47.40" y="388.49" font-size="7.2" text-anchor="end" fill="#3c3c3c">1500</text>
<line x1="54.20" y1="483.10" x2="54.20" y2="486.10" stroke="#2c2c2c" stroke-width="1.1"/>
<text x="54.20" y="496.49" font-size="7.2" text-anchor="middle" fill="#3c3c3c">0</text>
<line x1="90.35" y1="483.10" x2="90.35" y2="486.10" stroke="#2c2c2c" stroke-width="1.1"/>
<text x="90.35" y="496.49" font-size="7.2" text-anchor="middle" fill="#3c3c3c">20</text>
<line x1="126.50" y1="483.10" x2="126.50" y2="486.10" stroke="#2c2c2c" stroke-width="1.1"/>
<text x="126.50" y="496.49" font-size="7.2" text-anchor="middle" fill="#3c3c3c">40</text>
<line x1="162.65" y1="483.10" x2="162.65" y2="486.10" stroke="#2c2c2c" stroke-width="1.1"/>
<text x="162.65" y="496.49" font-size="7.2" text-anchor="middle" fill="#3c3c3c">60</text>
<line x1="198.80" y1="483.10" x2="198.80" y2="486.10" stroke="#2c2c2c" stroke-width="1.1"/>
<text x="198.80" y="496.49" font-size="7.2" text-anchor="middle" fill="#3c3c3c">80</text>
<text x="128.50" y="509.96" font-size="9.6" text-anchor="middle" fill="#3c3c3c" font-style="italic" textLength="60.5" lengthAdjust="spacingAndGlyphs">Enterobacteriaceae</text>
<text transform="translate(22.90 433.00) rotate(-90)" x="0" y="3.42" font-size="9.5" text-anchor="middle" fill="#3c3c3c" textLength="56" lengthAdjust="spacingAndGlyphs">Serum LDH (IU/L)</text>
<polygon points="92.40,396.00 96.00,396.00 94.20,399.20" fill="#2aa6dc"/>
<polygon points="100.00,412.10 103.60,412.10 101.80,415.30" fill="#2aa6dc"/>
<polygon points="52.00,420.90 55.60,420.90 53.80,424.10" fill="#2aa6dc"/>
<polygon points="65.40,434.10 69.00,434.10 67.20,437.30" fill="#2aa6dc"/>
<polygon points="68.70,431.80 72.30,431.80 70.50,435.00" fill="#2aa6dc"/>
<polygon points="92.40,440.10 96.00,440.10 94.20,443.30" fill="#2aa6dc"/>
<polygon points="96.60,442.80 100.20,442.80 98.40,446.00" fill="#2aa6dc"/>
<polygon points="56.70,448.60 60.30,448.60 58.50,451.80" fill="#2aa6dc"/>
<polygon points="57.80,454.40 61.40,454.40 59.60,457.60" fill="#2aa6dc"/>
<polygon points="92.00,452.80 95.60,452.80 93.80,456.00" fill="#2aa6dc"/>
<polygon points="52.00,440.60 55.60,440.60 53.80,443.80" fill="#2aa6dc"/>
<polygon points="128.50,408.20 132.10,408.20 130.30,411.40" fill="#2aa6dc"/>
<polygon points="160.80,418.60 164.40,418.60 162.60,421.80" fill="#2aa6dc"/>
<polygon points="144.70,447.40 148.30,447.40 146.50,450.60" fill="#2aa6dc"/>
<polygon points="159.40,444.00 163.00,444.00 161.20,447.20" fill="#2aa6dc"/>
<polygon points="150.20,459.40 153.80,459.40 152.00,462.60" fill="#2aa6dc"/>
<polygon points="183.20,461.80 186.80,461.80 185.00,465.00" fill="#2aa6dc"/>
<polygon points="124.40,463.60 128.00,463.60 126.20,466.80" fill="#2aa6dc"/>
<polygon points="119.20,468.60 122.80,468.60 121.00,471.80" fill="#2aa6dc"/>
<polygon points="126.70,468.60 130.30,468.60 128.50,471.80" fill="#2aa6dc"/>
<polygon points="111.00,467.10 114.60,467.10 112.80,470.30" fill="#2aa6dc"/>
<polygon points="111.70,468.60 115.30,468.60 113.50,471.80" fill="#2aa6dc"/>
<polygon points="65.90,462.40 69.50,462.40 67.70,465.60" fill="#2aa6dc"/>
<polygon points="72.00,465.60 75.60,465.60 73.80,468.80" fill="#2aa6dc"/>
<polygon points="79.70,466.30 83.30,466.30 81.50,469.50" fill="#2aa6dc"/>
<polygon points="84.70,465.60 88.30,465.60 86.50,468.80" fill="#2aa6dc"/>
<polygon points="90.50,452.40 94.10,452.40 92.30,455.60" fill="#2aa6dc"/>
<polygon points="93.60,465.60 97.20,465.60 95.40,468.80" fill="#2aa6dc"/>
<polygon points="88.20,470.10 91.80,470.10 90.00,473.30" fill="#2aa6dc"/>
<polygon points="64.20,471.60 67.80,471.60 66.00,474.80" fill="#2aa6dc"/>
<polygon points="69.00,469.40 72.60,469.40 70.80,472.60" fill="#2aa6dc"/>
<polygon points="75.90,470.90 79.50,470.90 77.70,474.10" fill="#2aa6dc"/>
<polygon points="81.20,469.40 84.80,469.40 83.00,472.60" fill="#2aa6dc"/>
<polygon points="55.20,475.60 58.80,475.60 57.00,478.80" fill="#2aa6dc"/>
<polygon points="102.20,467.60 105.80,467.60 104.00,470.80" fill="#2aa6dc"/>
<polygon points="106.20,470.60 109.80,470.60 108.00,473.80" fill="#2aa6dc"/>
<polygon points="98.20,472.60 101.80,472.60 100.00,475.80" fill="#2aa6dc"/>
<polygon points="61.20,466.60 64.80,466.60 63.00,469.80" fill="#2aa6dc"/>
<polygon points="59.20,460.60 62.80,460.60 61.00,463.80" fill="#2aa6dc"/>
<polygon points="53.18,458.47 56.78,458.47 54.98,461.67" fill="#2aa6dc"/>
<polygon points="56.23,456.98 59.83,456.98 58.03,460.18" fill="#2aa6dc"/>
<polygon points="55.02,462.55 58.62,462.55 56.82,465.75" fill="#2aa6dc"/>
<polygon points="51.79,465.24 55.39,465.24 53.59,468.44" fill="#2aa6dc"/>
<polygon points="51.75,463.84 55.35,463.84 53.55,467.04" fill="#2aa6dc"/>
<polygon points="51.83,457.32 55.43,457.32 53.63,460.52" fill="#2aa6dc"/>
<polygon points="53.98,471.31 57.58,471.31 55.78,474.51" fill="#2aa6dc"/>
<polygon points="52.02,459.84 55.62,459.84 53.82,463.04" fill="#2aa6dc"/>
<polygon points="55.97,473.61 59.57,473.61 57.77,476.81" fill="#2aa6dc"/>
<polygon points="55.43,463.14 59.03,463.14 57.23,466.34" fill="#2aa6dc"/>
<polygon points="60.36,456.49 63.96,456.49 62.16,459.69" fill="#2aa6dc"/>
<polygon points="58.75,461.10 62.35,461.10 60.55,464.30" fill="#2aa6dc"/>
<polygon points="52.11,457.84 55.71,457.84 53.91,461.04" fill="#2aa6dc"/>
<polygon points="53.07,471.11 56.67,471.11 54.87,474.31" fill="#2aa6dc"/>
<polygon points="52.28,466.65 55.88,466.65 54.08,469.85" fill="#2aa6dc"/>
<polygon points="56.09,462.68 59.69,462.68 57.89,465.88" fill="#2aa6dc"/>
<polygon points="55.14,456.79 58.74,456.79 56.94,459.99" fill="#2aa6dc"/>
<polygon points="51.80,459.51 55.40,459.51 53.60,462.71" fill="#2aa6dc"/>
<polygon points="56.56,463.72 60.16,463.72 58.36,466.92" fill="#2aa6dc"/>
<polygon points="53.11,466.73 56.71,466.73 54.91,469.93" fill="#2aa6dc"/>
<polygon points="54.24,461.30 57.84,461.30 56.04,464.50" fill="#2aa6dc"/>
<polygon points="57.93,468.88 61.53,468.88 59.73,472.08" fill="#2aa6dc"/>
<polygon points="52.64,466.51 56.24,466.51 54.44,469.71" fill="#2aa6dc"/>
<polygon points="54.91,472.23 58.51,472.23 56.71,475.43" fill="#2aa6dc"/>
<polygon points="57.13,461.07 60.73,461.07 58.93,464.27" fill="#2aa6dc"/>
<polygon points="60.42,457.84 64.02,457.84 62.22,461.04" fill="#2aa6dc"/>
<polygon points="53.93,469.99 57.53,469.99 55.73,473.19" fill="#2aa6dc"/>
<polygon points="52.14,464.89 55.74,464.89 53.94,468.09" fill="#2aa6dc"/>
<polygon points="51.75,468.30 55.35,468.30 53.55,471.50" fill="#2aa6dc"/>
<polygon points="57.56,466.49 61.16,466.49 59.36,469.69" fill="#2aa6dc"/>
<polygon points="58.98,461.56 62.58,461.56 60.78,464.76" fill="#2aa6dc"/>
<polygon points="56.73,466.89 60.33,466.89 58.53,470.09" fill="#2aa6dc"/>
<polygon points="55.46,464.27 59.06,464.27 57.26,467.47" fill="#2aa6dc"/>
<polygon points="58.51,473.55 62.11,473.55 60.31,476.75" fill="#2aa6dc"/>
<polygon points="54.43,468.22 58.03,468.22 56.23,471.42" fill="#2aa6dc"/>
<polygon points="51.80,468.93 55.40,468.93 53.60,472.13" fill="#2aa6dc"/>
<polygon points="56.19,474.47 59.79,474.47 57.99,477.67" fill="#2aa6dc"/>
<polygon points="58.28,461.01 61.88,461.01 60.08,464.21" fill="#2aa6dc"/>
<polygon points="53.66,468.30 57.26,468.30 55.46,471.50" fill="#2aa6dc"/>
<polygon points="51.72,464.37 55.32,464.37 53.52,467.57" fill="#2aa6dc"/>
<polygon points="52.22,457.82 55.82,457.82 54.02,461.02" fill="#2aa6dc"/>
<polygon points="51.80,470.20 55.40,470.20 53.60,473.40" fill="#2aa6dc"/>
<polygon points="52.04,460.30 55.64,460.30 53.84,463.50" fill="#2aa6dc"/>
<polygon points="53.70,472.16 57.30,472.16 55.50,475.36" fill="#2aa6dc"/>
<polygon points="51.86,464.13 55.46,464.13 53.66,467.33" fill="#2aa6dc"/>
<polygon points="55.15,472.38 58.75,472.38 56.95,475.58" fill="#2aa6dc"/>
<polygon points="58.24,472.02 61.84,472.02 60.04,475.22" fill="#2aa6dc"/>
<polygon points="52.86,463.49 56.46,463.49 54.66,466.69" fill="#2aa6dc"/>
<polygon points="53.45,472.40 57.05,472.40 55.25,475.60" fill="#2aa6dc"/>
<polygon points="60.10,458.47 63.70,458.47 61.90,461.67" fill="#2aa6dc"/>
<polygon points="52.26,460.01 55.86,460.01 54.06,463.21" fill="#2aa6dc"/>
<polygon points="52.58,464.81 56.18,464.81 54.38,468.01" fill="#2aa6dc"/>
<polygon points="55.56,460.59 59.16,460.59 57.36,463.79" fill="#2aa6dc"/>
<polygon points="51.70,463.56 55.30,463.56 53.50,466.76" fill="#2aa6dc"/>
<polygon points="53.53,466.36 57.13,466.36 55.33,469.56" fill="#2aa6dc"/>
<polygon points="60.03,468.72 63.63,468.72 61.83,471.92" fill="#2aa6dc"/>
<polygon points="54.82,467.33 58.42,467.33 56.62,470.53" fill="#2aa6dc"/>
<polygon points="56.51,456.63 60.11,456.63 58.31,459.83" fill="#2aa6dc"/>
<polygon points="59.30,470.42 62.90,470.42 61.10,473.62" fill="#2aa6dc"/>
<polygon points="58.96,470.76 62.56,470.76 60.76,473.96" fill="#2aa6dc"/>
<polygon points="53.71,463.18 57.31,463.18 55.51,466.38" fill="#2aa6dc"/>
<polygon points="51.94,467.65 55.54,467.65 53.74,470.85" fill="#2aa6dc"/>
<polygon points="51.81,456.88 55.41,456.88 53.61,460.08" fill="#2aa6dc"/>
<polygon points="52.43,458.68 56.03,458.68 54.23,461.88" fill="#2aa6dc"/>
<polygon points="53.30,456.60 56.90,456.60 55.10,459.80" fill="#2aa6dc"/>
<polygon points="51.70,458.47 55.30,458.47 53.50,461.67" fill="#2aa6dc"/>
<polygon points="51.93,462.51 55.53,462.51 53.73,465.71" fill="#2aa6dc"/>
<polygon points="51.73,472.21 55.33,472.21 53.53,475.41" fill="#2aa6dc"/>
<polygon points="55.82,458.42 59.42,458.42 57.62,461.62" fill="#2aa6dc"/>
<polygon points="52.69,462.20 56.29,462.20 54.49,465.40" fill="#2aa6dc"/>
<line x1="58.50" y1="467.70" x2="185.00" y2="443.10" stroke="#1a1a1a" stroke-width="1.3"/>
<text x="270.80" y="237.91" font-size="12.5" font-weight="bold" fill="#000">E</text>
<rect x="354.60" y="277.01" width="16.20" height="52.19" fill="#0f4f8c"/>
<rect x="354.60" y="320.70" width="16.20" height="8.50" fill="#c8102e"/>
<rect x="380.20" y="285.51" width="16.20" height="43.69" fill="#0f4f8c"/>
<rect x="380.20" y="325.80" width="16.20" height="3.40" fill="#c8102e"/>
<rect x="406.20" y="293.67" width="16.00" height="35.53" fill="#0f4f8c"/>
<rect x="406.20" y="328.18" width="16.00" height="1.02" fill="#c8102e"/>
<rect x="431.60" y="281.94" width="16.30" height="47.26" fill="#0f4f8c"/>
<rect x="431.60" y="302.51" width="16.30" height="26.69" fill="#c8102e"/>
<line x1="346.20" y1="242.00" x2="346.20" y2="329.70" stroke="#2c2c2c" stroke-width="1.2"/>
<line x1="346.20" y1="329.20" x2="457.00" y2="329.20" stroke="#2c2c2c" stroke-width="1.2"/>
<line x1="343.20" y1="329.20" x2="346.20" y2="329.20" stroke="#2c2c2c" stroke-width="1.1"/>
<text x="339.20" y="331.79" font-size="7.2" text-anchor="end" fill="#3c3c3c">0</text>
<line x1="343.20" y1="312.20" x2="346.20" y2="312.20" stroke="#2c2c2c" stroke-width="1.1"/>
<text x="339.20" y="314.79" font-size="7.2" text-anchor="end" fill="#3c3c3c">10</text>
<line x1="343.20" y1="295.20" x2="346.20" y2="295.20" stroke="#2c2c2c" stroke-width="1.1"/>
<text x="339.20" y="297.79" font-size="7.2" text-anchor="end" fill="#3c3c3c">20</text>
<line x1="343.20" y1="278.20" x2="346.20" y2="278.20" stroke="#2c2c2c" stroke-width="1.1"/>
<text x="339.20" y="280.79" font-size="7.2" text-anchor="end" fill="#3c3c3c">30</text>
<line x1="343.20" y1="261.20" x2="346.20" y2="261.20" stroke="#2c2c2c" stroke-width="1.1"/>
<text x="339.20" y="263.79" font-size="7.2" text-anchor="end" fill="#3c3c3c">40</text>
<line x1="343.20" y1="244.20" x2="346.20" y2="244.20" stroke="#2c2c2c" stroke-width="1.1"/>
<text x="339.20" y="246.79" font-size="7.2" text-anchor="end" fill="#3c3c3c">50</text>
<line x1="362.70" y1="329.20" x2="362.70" y2="332.20" stroke="#2c2c2c" stroke-width="1.1"/>
<text x="362.70" y="342.52" font-size="7" text-anchor="middle" fill="#3c3c3c">I</text>
<line x1="388.30" y1="329.20" x2="388.30" y2="332.20" stroke="#2c2c2c" stroke-width="1.1"/>
<text x="388.30" y="342.52" font-size="7" text-anchor="middle" fill="#3c3c3c">II</text>
<line x1="414.20" y1="329.20" x2="414.20" y2="332.20" stroke="#2c2c2c" stroke-width="1.1"/>
<text x="414.20" y="342.52" font-size="7" text-anchor="middle" fill="#3c3c3c">III</text>
<line x1="439.75" y1="329.20" x2="439.75" y2="332.20" stroke="#2c2c2c" stroke-width="1.1"/>
<text x="439.75" y="342.52" font-size="7" text-anchor="middle" fill="#3c3c3c">IV</text>
<text x="401.70" y="354.66" font-size="8.5" text-anchor="middle" fill="#3c3c3c" textLength="18.2" lengthAdjust="spacingAndGlyphs">Stage</text>
<rect x="429.10" y="241.00" width="6.40" height="6.30" fill="#0f4f8c"/>
<rect x="429.10" y="251.50" width="6.40" height="6.30" fill="#c8102e"/>
<text x="439.00" y="246.34" font-size="6.5" text-anchor="start" fill="#3c3c3c" textLength="17" lengthAdjust="spacingAndGlyphs">FN (–)</text>
<text x="439.00" y="257.04" font-size="6.5" text-anchor="start" fill="#3c3c3c" textLength="17" lengthAdjust="spacingAndGlyphs">FN (+)</text>
<line x1="326.75" y1="466.49" x2="326.75" y2="436.96" stroke="#2c2c2c" stroke-width="1.1"/>
<line x1="322.25" y1="436.96" x2="331.25" y2="436.96" stroke="#2c2c2c" stroke-width="1.1"/>
<rect x="318.90" y="466.49" width="15.70" height="16.61" fill="#0f4f8c"/>
<line x1="351.65" y1="467.18" x2="351.65" y2="450.80" stroke="#2c2c2c" stroke-width="1.1"/>
<line x1="347.15" y1="450.80" x2="356.15" y2="450.80" stroke="#2c2c2c" stroke-width="1.1"/>
<rect x="343.80" y="467.18" width="15.70" height="15.92" fill="#c8102e"/>
<line x1="310.20" y1="389.00" x2="310.20" y2="483.60" stroke="#2c2c2c" stroke-width="1.2"/>
<line x1="310.20" y1="483.10" x2="369.20" y2="483.10" stroke="#2c2c2c" stroke-width="1.2"/>
<line x1="307.20" y1="483.10" x2="310.20" y2="483.10" stroke="#2c2c2c" stroke-width="1.1"/>
<text x="304.30" y="485.69" font-size="7.2" text-anchor="end" fill="#3c3c3c">0</text>
<line x1="307.20" y1="460.03" x2="310.20" y2="460.03" stroke="#2c2c2c" stroke-width="1.1"/>
<text x="304.30" y="462.62" font-size="7.2" text-anchor="end" fill="#3c3c3c">10</text>
<line x1="307.20" y1="436.96" x2="310.20" y2="436.96" stroke="#2c2c2c" stroke-width="1.1"/>
<text x="304.30" y="439.55" font-size="7.2" text-anchor="end" fill="#3c3c3c">20</text>
<line x1="307.20" y1="413.89" x2="310.20" y2="413.89" stroke="#2c2c2c" stroke-width="1.1"/>
<text x="304.30" y="416.48" font-size="7.2" text-anchor="end" fill="#3c3c3c">30</text>
<line x1="307.20" y1="390.82" x2="310.20" y2="390.82" stroke="#2c2c2c" stroke-width="1.1"/>
<text x="304.30" y="393.41" font-size="7.2" text-anchor="end" fill="#3c3c3c">40</text>
<line x1="326.75" y1="483.10" x2="326.75" y2="486.10" stroke="#2c2c2c" stroke-width="1.1"/>
<line x1="351.65" y1="483.10" x2="351.65" y2="486.10" stroke="#2c2c2c" stroke-width="1.1"/>
<polyline points="329.5,403.5 329.5,399.5 352.6,399.5 352.6,403.5" fill="none" stroke="#2c2c2c" stroke-width="1.1"/>
<text x="341.00" y="395.45" font-size="6.8" text-anchor="middle" fill="#3c3c3c">ns</text>
<text x="326.75" y="496.02" font-size="7.0" text-anchor="middle" fill="#3c3c3c" textLength="20.5" lengthAdjust="spacingAndGlyphs">FN (–)</text>
<text x="351.65" y="496.02" font-size="7.0" text-anchor="middle" fill="#3c3c3c" textLength="20.5" lengthAdjust="spacingAndGlyphs">FN (+)</text>
<text x="339.60" y="509.80" font-size="10" text-anchor="middle" fill="#3c3c3c" textLength="28.4" lengthAdjust="spacingAndGlyphs">Stage I/II</text>
<text x="299.50" y="382.58" font-size="9.4" text-anchor="start" fill="#222" font-style="italic" textLength="80.8" lengthAdjust="spacingAndGlyphs">Enterobacteriaceae</text>
<text transform="translate(286.60 435.70) rotate(-90)" x="0" y="3.35" font-size="9.3" text-anchor="middle" fill="#3c3c3c" textLength="76" lengthAdjust="spacingAndGlyphs">Relative abundance (%)</text>
<line x1="456.00" y1="468.16" x2="456.00" y2="440.67" stroke="#2c2c2c" stroke-width="1.1"/>
<line x1="451.50" y1="440.67" x2="460.50" y2="440.67" stroke="#2c2c2c" stroke-width="1.1"/>
<rect x="448.20" y="468.16" width="15.60" height="14.94" fill="#0f4f8c"/>
<line x1="480.95" y1="443.80" x2="480.95" y2="405.06" stroke="#2c2c2c" stroke-width="1.1"/>
<line x1="476.45" y1="405.06" x2="485.45" y2="405.06" stroke="#2c2c2c" stroke-width="1.1"/>
<rect x="473.00" y="443.80" width="15.90" height="39.30" fill="#c8102e"/>
<line x1="439.50" y1="389.50" x2="439.50" y2="483.60" stroke="#2c2c2c" stroke-width="1.2"/>
<line x1="439.50" y1="483.10" x2="497.70" y2="483.10" stroke="#2c2c2c" stroke-width="1.2"/>
<line x1="436.50" y1="483.10" x2="439.50" y2="483.10" stroke="#2c2c2c" stroke-width="1.1"/>
<text x="434.30" y="485.69" font-size="7.2" text-anchor="end" fill="#3c3c3c">0</text>
<line x1="436.50" y1="464.65" x2="439.50" y2="464.65" stroke="#2c2c2c" stroke-width="1.1"/>
<text x="434.30" y="467.24" font-size="7.2" text-anchor="end" fill="#3c3c3c">10</text>
<line x1="436.50" y1="446.20" x2="439.50" y2="446.20" stroke="#2c2c2c" stroke-width="1.1"/>
<text x="434.30" y="448.79" font-size="7.2" text-anchor="end" fill="#3c3c3c">20</text>
<line x1="436.50" y1="427.75" x2="439.50" y2="427.75" stroke="#2c2c2c" stroke-width="1.1"/>
<text x="434.30" y="430.34" font-size="7.2" text-anchor="end" fill="#3c3c3c">30</text>
<line x1="436.50" y1="409.30" x2="439.50" y2="409.30" stroke="#2c2c2c" stroke-width="1.1"/>
<text x="434.30" y="411.89" font-size="7.2" text-anchor="end" fill="#3c3c3c">40</text>
<line x1="436.50" y1="390.85" x2="439.50" y2="390.85" stroke="#2c2c2c" stroke-width="1.1"/>
<text x="434.30" y="393.44" font-size="7.2" text-anchor="end" fill="#3c3c3c">50</text>
<line x1="456.00" y1="483.10" x2="456.00" y2="486.10" stroke="#2c2c2c" stroke-width="1.1"/>
<line x1="480.95" y1="483.10" x2="480.95" y2="486.10" stroke="#2c2c2c" stroke-width="1.1"/>
<polyline points="458.5,399.9 458.5,395.4 481.5,395.4 481.5,399.9" fill="none" stroke="#2c2c2c" stroke-width="1.1"/>
<text x="470.20" y="396.09" font-size="7.2" text-anchor="middle" fill="#3c3c3c">**</text>
<text x="456.00" y="496.32" font-size="7.0" text-anchor="middle" fill="#3c3c3c" textLength="20.5" lengthAdjust="spacingAndGlyphs">FN (–)</text>
<text x="480.95" y="496.32" font-size="7.0" text-anchor="middle" fill="#3c3c3c" textLength="20.5" lengthAdjust="spacingAndGlyphs">FN (+)</text>
<text x="469.00" y="509.80" font-size="10" text-anchor="middle" fill="#3c3c3c" textLength="36.4" lengthAdjust="spacingAndGlyphs">Stage III/IV</text>
<text x="428.50" y="382.58" font-size="9.4" text-anchor="start" fill="#222" font-style="italic" textLength="80.8" lengthAdjust="spacingAndGlyphs">Enterobacteriaceae</text>
<text transform="translate(416.60 435.40) rotate(-90)" x="0" y="3.35" font-size="9.3" text-anchor="middle" fill="#3c3c3c" textLength="76.8" lengthAdjust="spacingAndGlyphs">Relative abundance (%)</text>
<text x="9.20" y="539.61" font-size="12.5" font-weight="bold" fill="#000">F</text>
<line x1="136.30" y1="612.30" x2="151.90" y2="569.00" stroke="#c8243f" stroke-width="0.8" stroke-opacity="0.9"/>
<line x1="136.30" y1="612.30" x2="145.60" y2="581.20" stroke="#c8243f" stroke-width="0.8" stroke-opacity="0.9"/>
<line x1="136.30" y1="612.30" x2="153.10" y2="592.10" stroke="#c8243f" stroke-width="0.8" stroke-opacity="0.9"/>
<line x1="136.30" y1="612.30" x2="151.90" y2="608.80" stroke="#c8243f" stroke-width="0.8" stroke-opacity="0.9"/>
<line x1="136.30" y1="612.30" x2="148.50" y2="619.80" stroke="#c8243f" stroke-width="0.8" stroke-opacity="0.9"/>
<line x1="136.30" y1="612.30" x2="89.10" y2="631.30" stroke="#c8243f" stroke-width="0.8" stroke-opacity="0.9"/>
<line x1="136.30" y1="612.30" x2="121.80" y2="647.70" stroke="#c8243f" stroke-width="0.8" stroke-opacity="0.9"/>
<line x1="136.30" y1="612.30" x2="152.80" y2="642.80" stroke="#c8243f" stroke-width="0.8" stroke-opacity="0.9"/>
<line x1="136.30" y1="612.30" x2="147.90" y2="619.90" stroke="#c8243f" stroke-width="0.8" stroke-opacity="0.9"/>
<line x1="136.30" y1="612.30" x2="131.40" y2="599.90" stroke="#c8243f" stroke-width="0.8" stroke-opacity="0.9"/>
<line x1="136.30" y1="612.30" x2="140.00" y2="628.60" stroke="#c8243f" stroke-width="0.8" stroke-opacity="0.9"/>
<circle cx="151.90" cy="569.00" r="0.9" fill="#c8243f"/>
<circle cx="145.60" cy="581.20" r="0.9" fill="#c8243f"/>
<circle cx="153.10" cy="592.10" r="0.9" fill="#c8243f"/>
<circle cx="151.90" cy="608.80" r="0.9" fill="#c8243f"/>
<circle cx="148.50" cy="619.80" r="0.9" fill="#c8243f"/>
<circle cx="89.10" cy="631.30" r="0.9" fill="#c8243f"/>
<circle cx="121.80" cy="647.70" r="0.9" fill="#c8243f"/>
<circle cx="152.80" cy="642.80" r="0.9" fill="#c8243f"/>
<circle cx="147.90" cy="619.90" r="0.9" fill="#c8243f"/>
<circle cx="131.40" cy="599.90" r="0.9" fill="#c8243f"/>
<circle cx="140.00" cy="628.60" r="0.9" fill="#c8243f"/>
<line x1="119.60" y1="619.00" x2="90.80" y2="561.00" stroke="#1e5a8e" stroke-width="0.95" stroke-opacity="0.9"/>
<line x1="119.60" y1="619.00" x2="89.00" y2="564.40" stroke="#1e5a8e" stroke-width="0.95" stroke-opacity="0.9"/>
<line x1="119.60" y1="619.00" x2="82.70" y2="568.50" stroke="#1e5a8e" stroke-width="0.95" stroke-opacity="0.9"/>
<line x1="119.60" y1="619.00" x2="87.30" y2="572.50" stroke="#1e5a8e" stroke-width="0.95" stroke-opacity="0.9"/>
<line x1="119.60" y1="619.00" x2="78.70" y2="576.50" stroke="#1e5a8e" stroke-width="0.95" stroke-opacity="0.9"/>
<line x1="119.60" y1="619.00" x2="82.70" y2="577.10" stroke="#1e5a8e" stroke-width="0.95" stroke-opacity="0.9"/>
<line x1="119.60" y1="619.00" x2="94.20" y2="579.40" stroke="#1e5a8e" stroke-width="0.95" stroke-opacity="0.9"/>
<line x1="119.60" y1="619.00" x2="88.50" y2="581.70" stroke="#1e5a8e" stroke-width="0.95" stroke-opacity="0.9"/>
<line x1="119.60" y1="619.00" x2="79.80" y2="586.90" stroke="#1e5a8e" stroke-width="0.95" stroke-opacity="0.9"/>
<line x1="119.60" y1="619.00" x2="81.00" y2="587.50" stroke="#1e5a8e" stroke-width="0.95" stroke-opacity="0.9"/>
<line x1="119.60" y1="619.00" x2="79.80" y2="595.00" stroke="#1e5a8e" stroke-width="0.95" stroke-opacity="0.9"/>
<line x1="119.60" y1="619.00" x2="97.70" y2="600.80" stroke="#1e5a8e" stroke-width="0.95" stroke-opacity="0.9"/>
<line x1="119.60" y1="619.00" x2="93.10" y2="603.10" stroke="#1e5a8e" stroke-width="0.95" stroke-opacity="0.9"/>
<line x1="119.60" y1="619.00" x2="89.00" y2="606.50" stroke="#1e5a8e" stroke-width="0.95" stroke-opacity="0.9"/>
<line x1="119.60" y1="619.00" x2="101.20" y2="608.80" stroke="#1e5a8e" stroke-width="0.95" stroke-opacity="0.9"/>
<line x1="119.60" y1="619.00" x2="85.00" y2="614.60" stroke="#1e5a8e" stroke-width="0.95" stroke-opacity="0.9"/>
<line x1="119.60" y1="619.00" x2="93.70" y2="615.20" stroke="#1e5a8e" stroke-width="0.95" stroke-opacity="0.9"/>
<line x1="119.60" y1="619.00" x2="85.60" y2="621.50" stroke="#1e5a8e" stroke-width="0.95" stroke-opacity="0.9"/>
<line x1="119.60" y1="619.00" x2="105.80" y2="614.60" stroke="#1e5a8e" stroke-width="0.95" stroke-opacity="0.9"/>
<line x1="119.60" y1="619.00" x2="122.50" y2="608.80" stroke="#1e5a8e" stroke-width="0.95" stroke-opacity="0.9"/>
<line x1="119.60" y1="619.00" x2="80.50" y2="586.50" stroke="#1e5a8e" stroke-width="0.95" stroke-opacity="0.9"/>
<line x1="119.60" y1="619.00" x2="84.00" y2="579.00" stroke="#1e5a8e" stroke-width="0.95" stroke-opacity="0.9"/>
<line x1="119.60" y1="619.00" x2="152.50" y2="556.90" stroke="#1e5a8e" stroke-width="0.95" stroke-opacity="0.9"/>
<line x1="119.60" y1="619.00" x2="164.00" y2="565.00" stroke="#1e5a8e" stroke-width="0.95" stroke-opacity="0.9"/>
<line x1="119.60" y1="619.00" x2="149.60" y2="562.70" stroke="#1e5a8e" stroke-width="0.95" stroke-opacity="0.9"/>
<line x1="119.60" y1="619.00" x2="150.80" y2="566.70" stroke="#1e5a8e" stroke-width="0.95" stroke-opacity="0.9"/>
<line x1="119.60" y1="619.00" x2="149.60" y2="571.30" stroke="#1e5a8e" stroke-width="0.95" stroke-opacity="0.9"/>
<line x1="119.60" y1="619.00" x2="159.40" y2="573.10" stroke="#1e5a8e" stroke-width="0.95" stroke-opacity="0.9"/>
<line x1="119.60" y1="619.00" x2="158.30" y2="577.10" stroke="#1e5a8e" stroke-width="0.95" stroke-opacity="0.9"/>
<line x1="119.60" y1="619.00" x2="162.90" y2="577.10" stroke="#1e5a8e" stroke-width="0.95" stroke-opacity="0.9"/>
<line x1="119.60" y1="619.00" x2="149.60" y2="584.60" stroke="#1e5a8e" stroke-width="0.95" stroke-opacity="0.9"/>
<line x1="119.60" y1="619.00" x2="152.50" y2="586.90" stroke="#1e5a8e" stroke-width="0.95" stroke-opacity="0.9"/>
<line x1="119.60" y1="619.00" x2="143.80" y2="590.40" stroke="#1e5a8e" stroke-width="0.95" stroke-opacity="0.9"/>
<line x1="119.60" y1="619.00" x2="141.00" y2="593.30" stroke="#1e5a8e" stroke-width="0.95" stroke-opacity="0.9"/>
<line x1="119.60" y1="619.00" x2="154.20" y2="596.20" stroke="#1e5a8e" stroke-width="0.95" stroke-opacity="0.9"/>
<line x1="119.60" y1="619.00" x2="143.30" y2="603.70" stroke="#1e5a8e" stroke-width="0.95" stroke-opacity="0.9"/>
<line x1="119.60" y1="619.00" x2="154.80" y2="613.50" stroke="#1e5a8e" stroke-width="0.95" stroke-opacity="0.9"/>
<line x1="119.60" y1="619.00" x2="160.00" y2="575.00" stroke="#1e5a8e" stroke-width="0.95" stroke-opacity="0.9"/>
<line x1="119.60" y1="619.00" x2="161.00" y2="576.00" stroke="#1e5a8e" stroke-width="0.95" stroke-opacity="0.9"/>
<line x1="119.60" y1="619.00" x2="86.60" y2="628.90" stroke="#1e5a8e" stroke-width="0.95" stroke-opacity="0.9"/>
<line x1="119.60" y1="619.00" x2="99.70" y2="628.90" stroke="#1e5a8e" stroke-width="0.95" stroke-opacity="0.9"/>
<line x1="119.60" y1="619.00" x2="107.90" y2="633.80" stroke="#1e5a8e" stroke-width="0.95" stroke-opacity="0.9"/>
<line x1="119.60" y1="619.00" x2="105.40" y2="644.40" stroke="#1e5a8e" stroke-width="0.95" stroke-opacity="0.9"/>
<line x1="119.60" y1="619.00" x2="109.50" y2="648.50" stroke="#1e5a8e" stroke-width="0.95" stroke-opacity="0.9"/>
<line x1="119.60" y1="619.00" x2="107.90" y2="655.00" stroke="#1e5a8e" stroke-width="0.95" stroke-opacity="0.9"/>
<line x1="119.60" y1="619.00" x2="101.30" y2="664.90" stroke="#1e5a8e" stroke-width="0.95" stroke-opacity="0.9"/>
<line x1="119.60" y1="619.00" x2="99.70" y2="667.30" stroke="#1e5a8e" stroke-width="0.95" stroke-opacity="0.9"/>
<line x1="119.60" y1="619.00" x2="99.70" y2="672.20" stroke="#1e5a8e" stroke-width="0.95" stroke-opacity="0.9"/>
<line x1="119.60" y1="619.00" x2="110.30" y2="664.90" stroke="#1e5a8e" stroke-width="0.95" stroke-opacity="0.9"/>
<line x1="119.60" y1="619.00" x2="114.40" y2="641.20" stroke="#1e5a8e" stroke-width="0.95" stroke-opacity="0.9"/>
<line x1="119.60" y1="619.00" x2="120.10" y2="662.40" stroke="#1e5a8e" stroke-width="0.95" stroke-opacity="0.9"/>
<line x1="119.60" y1="619.00" x2="124.20" y2="664.00" stroke="#1e5a8e" stroke-width="0.95" stroke-opacity="0.9"/>
<line x1="119.60" y1="619.00" x2="125.90" y2="651.80" stroke="#1e5a8e" stroke-width="0.95" stroke-opacity="0.9"/>
<line x1="119.60" y1="619.00" x2="135.70" y2="656.70" stroke="#1e5a8e" stroke-width="0.95" stroke-opacity="0.9"/>
<line x1="119.60" y1="619.00" x2="134.00" y2="651.80" stroke="#1e5a8e" stroke-width="0.95" stroke-opacity="0.9"/>
<line x1="119.60" y1="619.00" x2="142.20" y2="660.80" stroke="#1e5a8e" stroke-width="0.95" stroke-opacity="0.9"/>
<line x1="119.60" y1="619.00" x2="147.90" y2="659.10" stroke="#1e5a8e" stroke-width="0.95" stroke-opacity="0.9"/>
<line x1="119.60" y1="619.00" x2="143.80" y2="647.70" stroke="#1e5a8e" stroke-width="0.95" stroke-opacity="0.9"/>
<line x1="119.60" y1="619.00" x2="132.40" y2="646.10" stroke="#1e5a8e" stroke-width="0.95" stroke-opacity="0.9"/>
<line x1="119.60" y1="619.00" x2="146.30" y2="639.50" stroke="#1e5a8e" stroke-width="0.95" stroke-opacity="0.9"/>
<line x1="119.60" y1="619.00" x2="160.20" y2="647.70" stroke="#1e5a8e" stroke-width="0.95" stroke-opacity="0.9"/>
<line x1="119.60" y1="619.00" x2="155.30" y2="633.00" stroke="#1e5a8e" stroke-width="0.95" stroke-opacity="0.9"/>
<line x1="119.60" y1="619.00" x2="162.60" y2="641.20" stroke="#1e5a8e" stroke-width="0.95" stroke-opacity="0.9"/>
<line x1="119.60" y1="619.00" x2="160.20" y2="628.90" stroke="#1e5a8e" stroke-width="0.95" stroke-opacity="0.9"/>
<line x1="119.60" y1="619.00" x2="103.00" y2="666.00" stroke="#1e5a8e" stroke-width="0.95" stroke-opacity="0.9"/>
<line x1="119.60" y1="619.00" x2="108.00" y2="650.00" stroke="#1e5a8e" stroke-width="0.95" stroke-opacity="0.9"/>
<circle cx="90.80" cy="561.00" r="1.0" fill="#1e5a8e"/>
<circle cx="89.00" cy="564.40" r="1.0" fill="#1e5a8e"/>
<circle cx="82.70" cy="568.50" r="1.0" fill="#1e5a8e"/>
<circle cx="87.30" cy="572.50" r="1.0" fill="#1e5a8e"/>
<circle cx="78.70" cy="576.50" r="1.0" fill="#1e5a8e"/>
<circle cx="82.70" cy="577.10" r="1.0" fill="#1e5a8e"/>
<circle cx="94.20" cy="579.40" r="1.0" fill="#1e5a8e"/>
<circle cx="88.50" cy="581.70" r="1.0" fill="#1e5a8e"/>
<circle cx="79.80" cy="586.90" r="1.0" fill="#1e5a8e"/>
<circle cx="81.00" cy="587.50" r="1.0" fill="#1e5a8e"/>
<circle cx="79.80" cy="595.00" r="1.0" fill="#1e5a8e"/>
<circle cx="97.70" cy="600.80" r="1.0" fill="#1e5a8e"/>
<circle cx="93.10" cy="603.10" r="1.0" fill="#1e5a8e"/>
<circle cx="89.00" cy="606.50" r="1.0" fill="#1e5a8e"/>
<circle cx="101.20" cy="608.80" r="1.0" fill="#1e5a8e"/>
<circle cx="85.00" cy="614.60" r="1.0" fill="#1e5a8e"/>
<circle cx="93.70" cy="615.20" r="1.0" fill="#1e5a8e"/>
<circle cx="85.60" cy="621.50" r="1.0" fill="#1e5a8e"/>
<circle cx="105.80" cy="614.60" r="1.0" fill="#1e5a8e"/>
<circle cx="122.50" cy="608.80" r="1.0" fill="#1e5a8e"/>
<circle cx="80.50" cy="586.50" r="1.0" fill="#1e5a8e"/>
<circle cx="84.00" cy="579.00" r="1.0" fill="#1e5a8e"/>
<circle cx="152.50" cy="556.90" r="1.0" fill="#1e5a8e"/>
<circle cx="164.00" cy="565.00" r="1.0" fill="#1e5a8e"/>
<circle cx="149.60" cy="562.70" r="1.0" fill="#1e5a8e"/>
<circle cx="150.80" cy="566.70" r="1.0" fill="#1e5a8e"/>
<circle cx="149.60" cy="571.30" r="1.0" fill="#1e5a8e"/>
<circle cx="159.40" cy="573.10" r="1.0" fill="#1e5a8e"/>
<circle cx="158.30" cy="577.10" r="1.0" fill="#1e5a8e"/>
<circle cx="162.90" cy="577.10" r="1.0" fill="#1e5a8e"/>
<circle cx="149.60" cy="584.60" r="1.0" fill="#1e5a8e"/>
<circle cx="152.50" cy="586.90" r="1.0" fill="#1e5a8e"/>
<circle cx="143.80" cy="590.40" r="1.0" fill="#1e5a8e"/>
<circle cx="141.00" cy="593.30" r="1.0" fill="#1e5a8e"/>
<circle cx="154.20" cy="596.20" r="1.0" fill="#1e5a8e"/>
<circle cx="143.30" cy="603.70" r="1.0" fill="#1e5a8e"/>
<circle cx="154.80" cy="613.50" r="1.0" fill="#1e5a8e"/>
<circle cx="160.00" cy="575.00" r="1.0" fill="#1e5a8e"/>
<circle cx="161.00" cy="576.00" r="1.0" fill="#1e5a8e"/>
<circle cx="86.60" cy="628.90" r="1.0" fill="#1e5a8e"/>
<circle cx="99.70" cy="628.90" r="1.0" fill="#1e5a8e"/>
<circle cx="107.90" cy="633.80" r="1.0" fill="#1e5a8e"/>
<circle cx="105.40" cy="644.40" r="1.0" fill="#1e5a8e"/>
<circle cx="109.50" cy="648.50" r="1.0" fill="#1e5a8e"/>
<circle cx="107.90" cy="655.00" r="1.0" fill="#1e5a8e"/>
<circle cx="101.30" cy="664.90" r="1.0" fill="#1e5a8e"/>
<circle cx="99.70" cy="667.30" r="1.0" fill="#1e5a8e"/>
<circle cx="99.70" cy="672.20" r="1.0" fill="#1e5a8e"/>
<circle cx="110.30" cy="664.90" r="1.0" fill="#1e5a8e"/>
<circle cx="114.40" cy="641.20" r="1.0" fill="#1e5a8e"/>
<circle cx="120.10" cy="662.40" r="1.0" fill="#1e5a8e"/>
<circle cx="124.20" cy="664.00" r="1.0" fill="#1e5a8e"/>
<circle cx="125.90" cy="651.80" r="1.0" fill="#1e5a8e"/>
<circle cx="135.70" cy="656.70" r="1.0" fill="#1e5a8e"/>
<circle cx="134.00" cy="651.80" r="1.0" fill="#1e5a8e"/>
<circle cx="142.20" cy="660.80" r="1.0" fill="#1e5a8e"/>
<circle cx="147.90" cy="659.10" r="1.0" fill="#1e5a8e"/>
<circle cx="143.80" cy="647.70" r="1.0" fill="#1e5a8e"/>
<circle cx="132.40" cy="646.10" r="1.0" fill="#1e5a8e"/>
<circle cx="146.30" cy="639.50" r="1.0" fill="#1e5a8e"/>
<circle cx="160.20" cy="647.70" r="1.0" fill="#1e5a8e"/>
<circle cx="155.30" cy="633.00" r="1.0" fill="#1e5a8e"/>
<circle cx="162.60" cy="641.20" r="1.0" fill="#1e5a8e"/>
<circle cx="160.20" cy="628.90" r="1.0" fill="#1e5a8e"/>
<circle cx="103.00" cy="666.00" r="1.0" fill="#1e5a8e"/>
<circle cx="108.00" cy="650.00" r="1.0" fill="#1e5a8e"/>
<ellipse cx="120.60" cy="622.00" rx="72.17" ry="59.08" transform="rotate(79.07 120.60 622.00)" fill="none" stroke="#1e4f7a" stroke-width="1.2" stroke-dasharray="3 2.2"/>
<ellipse cx="136.70" cy="613.60" rx="84.00" ry="39.76" transform="rotate(-53.58 136.70 613.60)" fill="none" stroke="#c8243f" stroke-width="1.2" stroke-dasharray="3 2.2"/>
<rect x="54.2" y="534.8" width="148.3" height="166.4000000000001" fill="none" stroke="#2c2c2c" stroke-width="1.1"/>
<line x1="51.20" y1="540.86" x2="54.20" y2="540.86" stroke="#2c2c2c" stroke-width="1.0"/>
<text x="47.30" y="543.45" font-size="7.2" text-anchor="end" fill="#3c3c3c">0.4</text>
<line x1="51.20" y1="579.48" x2="54.20" y2="579.48" stroke="#2c2c2c" stroke-width="1.0"/>
<text x="47.30" y="582.07" font-size="7.2" text-anchor="end" fill="#3c3c3c">0.2</text>
<line x1="51.20" y1="618.10" x2="54.20" y2="618.10" stroke="#2c2c2c" stroke-width="1.0"/>
<text x="47.30" y="620.69" font-size="7.2" text-anchor="end" fill="#3c3c3c">0.0</text>
<line x1="51.20" y1="656.72" x2="54.20" y2="656.72" stroke="#2c2c2c" stroke-width="1.0"/>
<text x="47.30" y="659.31" font-size="7.2" text-anchor="end" fill="#3c3c3c" textLength="12.51" lengthAdjust="spacingAndGlyphs">−0.2</text>
<line x1="51.20" y1="695.34" x2="54.20" y2="695.34" stroke="#2c2c2c" stroke-width="1.0"/>
<text x="47.30" y="697.93" font-size="7.2" text-anchor="end" fill="#3c3c3c" textLength="12.51" lengthAdjust="spacingAndGlyphs">−0.4</text>
<line x1="85.19" y1="701.20" x2="85.19" y2="704.20" stroke="#2c2c2c" stroke-width="1.0"/>
<text x="85.19" y="714.09" font-size="7.2" text-anchor="middle" fill="#3c3c3c" textLength="12.51" lengthAdjust="spacingAndGlyphs">−0.3</text>
<line x1="121.40" y1="701.20" x2="121.40" y2="704.20" stroke="#2c2c2c" stroke-width="1.0"/>
<text x="121.40" y="714.09" font-size="7.2" text-anchor="middle" fill="#3c3c3c">0.0</text>
<line x1="157.61" y1="701.20" x2="157.61" y2="704.20" stroke="#2c2c2c" stroke-width="1.0"/>
<text x="157.61" y="714.09" font-size="7.2" text-anchor="middle" fill="#3c3c3c">0.3</text>
<line x1="193.82" y1="701.20" x2="193.82" y2="704.20" stroke="#2c2c2c" stroke-width="1.0"/>
<text x="193.82" y="714.09" font-size="7.2" text-anchor="middle" fill="#3c3c3c">0.6</text>
<text x="128.60" y="727.26" font-size="9.6" text-anchor="middle" fill="#3c3c3c" textLength="43" lengthAdjust="spacingAndGlyphs">PC1: 24.99%</text>
<text transform="translate(24.90 618.00) rotate(-90)" x="0" y="3.42" font-size="9.5" text-anchor="middle" fill="#3c3c3c" textLength="43.4" lengthAdjust="spacingAndGlyphs">PC2: 13.25%</text>
<text x="206.30" y="540.82" font-size="7" text-anchor="start" fill="#3c3c3c" textLength="18.3" lengthAdjust="spacingAndGlyphs">Group</text>
<line x1="206.30" y1="551.80" x2="216.00" y2="551.80" stroke="#1e5a8e" stroke-width="1.0"/>
<circle cx="211.2" cy="551.8" r="1.3" fill="#1e5a8e"/>
<line x1="206.30" y1="570.00" x2="216.00" y2="570.00" stroke="#c8243f" stroke-width="1.0"/>
<circle cx="211.2" cy="570" r="1.3" fill="#c8243f"/>
<text x="219.80" y="550.32" font-size="7" text-anchor="start" fill="#3c3c3c" textLength="32" lengthAdjust="spacingAndGlyphs">Maintained</text>
<text x="219.80" y="558.32" font-size="7" text-anchor="start" fill="#3c3c3c" textLength="25.5" lengthAdjust="spacingAndGlyphs">response</text>
<text x="219.80" y="568.72" font-size="7" text-anchor="start" fill="#3c3c3c" textLength="30" lengthAdjust="spacingAndGlyphs">Relapse or</text>
<text x="219.80" y="575.92" font-size="7" text-anchor="start" fill="#3c3c3c" textLength="33.7" lengthAdjust="spacingAndGlyphs">progression</text>
<text x="270.80" y="539.11" font-size="12.5" font-weight="bold" fill="#000">G</text>
<text x="397.50" y="539.61" font-size="12.5" font-weight="bold" fill="#000">H</text>
<line x1="329.60" y1="598.02" x2="329.60" y2="582.90" stroke="#2c2c2c" stroke-width="1.1"/>
<line x1="325.30" y1="582.90" x2="333.90" y2="582.90" stroke="#2c2c2c" stroke-width="1.1"/>
<rect x="320.30" y="598.02" width="18.60" height="75.08" fill="#0f4f8c"/>
<line x1="358.85" y1="594.07" x2="358.85" y2="583.42" stroke="#2c2c2c" stroke-width="1.1"/>
<line x1="354.55" y1="583.42" x2="363.15" y2="583.42" stroke="#2c2c2c" stroke-width="1.1"/>
<rect x="350.00" y="594.07" width="17.70" height="79.03" fill="#c8102e"/>
<line x1="310.00" y1="568.00" x2="310.00" y2="673.60" stroke="#2c2c2c" stroke-width="1.2"/>
<line x1="310.00" y1="673.10" x2="378.60" y2="673.10" stroke="#2c2c2c" stroke-width="1.2"/>
<line x1="307.00" y1="673.10" x2="310.00" y2="673.10" stroke="#2c2c2c" stroke-width="1.1"/>
<text x="303.20" y="675.69" font-size="7.2" text-anchor="end" fill="#3c3c3c">0</text>
<line x1="307.00" y1="638.74" x2="310.00" y2="638.74" stroke="#2c2c2c" stroke-width="1.1"/>
<text x="303.20" y="641.33" font-size="7.2" text-anchor="end" fill="#3c3c3c">2</text>
<line x1="307.00" y1="604.38" x2="310.00" y2="604.38" stroke="#2c2c2c" stroke-width="1.1"/>
<text x="303.20" y="606.97" font-size="7.2" text-anchor="end" fill="#3c3c3c">4</text>
<line x1="307.00" y1="570.02" x2="310.00" y2="570.02" stroke="#2c2c2c" stroke-width="1.1"/>
<text x="303.20" y="572.61" font-size="7.2" text-anchor="end" fill="#3c3c3c">6</text>
<line x1="329.60" y1="673.10" x2="329.60" y2="676.10" stroke="#2c2c2c" stroke-width="1.1"/>
<line x1="358.85" y1="673.10" x2="358.85" y2="676.10" stroke="#2c2c2c" stroke-width="1.1"/>
<polyline points="330.4,572.3 330.4,567.3 358.3,567.3 358.3,572.3" fill="none" stroke="#2c2c2c" stroke-width="1.1"/>
<text x="344.40" y="562.65" font-size="6.8" text-anchor="middle" fill="#3c3c3c">ns</text>
<text transform="translate(291.60 619.80) rotate(-90)" x="0" y="3.78" font-size="10.5" text-anchor="middle" fill="#3c3c3c" textLength="30.4" lengthAdjust="spacingAndGlyphs">Shannon</text>
<line x1="457.15" y1="661.73" x2="457.15" y2="640.36" stroke="#2c2c2c" stroke-width="1.1"/>
<line x1="452.85" y1="640.36" x2="461.45" y2="640.36" stroke="#2c2c2c" stroke-width="1.1"/>
<rect x="448.50" y="661.73" width="17.30" height="12.57" fill="#0f4f8c"/>
<line x1="485.00" y1="644.61" x2="485.00" y2="610.37" stroke="#2c2c2c" stroke-width="1.1"/>
<line x1="480.70" y1="610.37" x2="489.30" y2="610.37" stroke="#2c2c2c" stroke-width="1.1"/>
<rect x="476.50" y="644.61" width="17.00" height="29.69" fill="#c8102e"/>
<line x1="439.00" y1="581.00" x2="439.00" y2="674.80" stroke="#2c2c2c" stroke-width="1.2"/>
<line x1="439.00" y1="674.30" x2="505.00" y2="674.30" stroke="#2c2c2c" stroke-width="1.2"/>
<line x1="436.00" y1="674.30" x2="439.00" y2="674.30" stroke="#2c2c2c" stroke-width="1.1"/>
<text x="432.50" y="676.89" font-size="7.2" text-anchor="end" fill="#3c3c3c">0</text>
<line x1="436.00" y1="644.00" x2="439.00" y2="644.00" stroke="#2c2c2c" stroke-width="1.1"/>
<text x="432.50" y="646.59" font-size="7.2" text-anchor="end" fill="#3c3c3c">20</text>
<line x1="436.00" y1="613.70" x2="439.00" y2="613.70" stroke="#2c2c2c" stroke-width="1.1"/>
<text x="432.50" y="616.29" font-size="7.2" text-anchor="end" fill="#3c3c3c">40</text>
<line x1="436.00" y1="583.40" x2="439.00" y2="583.40" stroke="#2c2c2c" stroke-width="1.1"/>
<text x="432.50" y="585.99" font-size="7.2" text-anchor="end" fill="#3c3c3c">60</text>
<line x1="457.15" y1="674.30" x2="457.15" y2="677.30" stroke="#2c2c2c" stroke-width="1.1"/>
<line x1="485.00" y1="674.30" x2="485.00" y2="677.30" stroke="#2c2c2c" stroke-width="1.1"/>
<polyline points="460,596.0 460,591.5 487,591.5 487,596.0" fill="none" stroke="#2c2c2c" stroke-width="1.1"/>
<text x="473.00" y="591.09" font-size="7.2" text-anchor="middle" fill="#3c3c3c">*</text>
<text x="430.80" y="575.18" font-size="9.4" text-anchor="start" fill="#222" font-style="italic" textLength="81.5" lengthAdjust="spacingAndGlyphs">Enterobacteriaceae</text>
<text transform="translate(416.50 626.80) rotate(-90)" x="0" y="3.35" font-size="9.3" text-anchor="middle" fill="#3c3c3c" textLength="77" lengthAdjust="spacingAndGlyphs">Relative abundance (%)</text>
<text x="331.00" y="683.50" font-size="7" text-anchor="end" fill="#3c3c3c" textLength="37.5" lengthAdjust="spacingAndGlyphs" transform="rotate(-45 331.00 683.50)">Maintained</text>
<text x="336.50" y="690.00" font-size="7" text-anchor="end" fill="#3c3c3c" textLength="30" lengthAdjust="spacingAndGlyphs" transform="rotate(-45 336.50 690.00)">response</text>
<text x="359.00" y="684.50" font-size="7" text-anchor="end" fill="#3c3c3c" textLength="33" lengthAdjust="spacingAndGlyphs" transform="rotate(-45 359.00 684.50)">Relapse or</text>
<text x="364.30" y="690.50" font-size="7" text-anchor="end" fill="#3c3c3c" textLength="37" lengthAdjust="spacingAndGlyphs" transform="rotate(-45 364.30 690.50)">progression</text>
<text x="458.60" y="683.50" font-size="7" text-anchor="end" fill="#3c3c3c" textLength="37.5" lengthAdjust="spacingAndGlyphs" transform="rotate(-45 458.60 683.50)">Maintained</text>
<text x="464.10" y="690.00" font-size="7" text-anchor="end" fill="#3c3c3c" textLength="30" lengthAdjust="spacingAndGlyphs" transform="rotate(-45 464.10 690.00)">response</text>
<text x="486.60" y="684.50" font-size="7" text-anchor="end" fill="#3c3c3c" textLength="33" lengthAdjust="spacingAndGlyphs" transform="rotate(-45 486.60 684.50)">Relapse or</text>
<text x="491.90" y="690.50" font-size="7" text-anchor="end" fill="#3c3c3c" textLength="37" lengthAdjust="spacingAndGlyphs" transform="rotate(-45 491.90 690.50)">progression</text>
<rect x="0.6" y="0.6" width="518.8" height="735.8" fill="none" stroke="#333" stroke-width="1.3"/>
</svg></body></html>
